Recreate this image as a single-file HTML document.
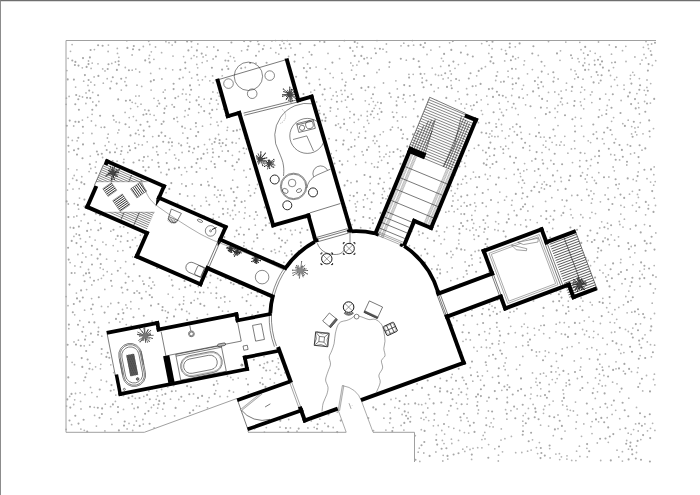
<!DOCTYPE html>
<html><head><meta charset="utf-8"><title>plan</title>
<style>html,body{margin:0;padding:0;background:#fff;}body{width:700px;height:495px;position:relative;overflow:hidden;font-family:"Liberation Sans",sans-serif;}
#bd{position:absolute;left:0;top:0;width:700px;height:495px;box-sizing:border-box;border-left:1px solid #8c8c8c;border-top:1px solid #6e6e6e;box-shadow:inset 0 1px 0 #dcdcdc;}</style></head>
<body><svg width="700" height="495" viewBox="0 0 700 495" style="position:absolute;left:0;top:0"><defs><filter id="bl" x="0" y="0" width="700" height="495" filterUnits="userSpaceOnUse"><feGaussianBlur stdDeviation="0.55"/></filter></defs><g filter="url(#bl)"><path d="M257.1 104.1h.01M450.1 71.0h.01M382.2 194.6h.01M107.2 78.7h.01M316.5 389.0h.01M139.0 134.6h.01M642.0 60.1h.01M572.5 162.6h.01M151.1 90.1h.01M443.0 197.5h.01M389.2 67.0h.01M101.2 127.3h.01M333.4 166.9h.01M534.7 335.1h.01M210.0 282.6h.01M644.3 90.3h.01M312.7 359.6h.01M155.7 246.6h.01M582.5 172.7h.01M476.2 291.0h.01M408.1 232.8h.01M101.8 336.2h.01M447.8 459.1h.01M550.9 160.5h.01M165.1 89.9h.01M100.8 364.3h.01M142.3 144.9h.01M390.2 412.8h.01M549.4 404.7h.01M230.3 215.5h.01M170.0 138.3h.01M203.7 244.9h.01M413.6 151.2h.01M628.3 331.5h.01M370.1 300.8h.01M465.0 63.3h.01M297.5 208.7h.01M127.1 307.9h.01M102.7 68.9h.01M66.1 104.3h.01M125.9 193.8h.01M81.0 409.0h.01M280.9 92.3h.01M566.9 459.1h.01M340.9 244.4h.01M555.0 108.5h.01M377.7 102.3h.01M386.5 51.9h.01M164.6 365.9h.01M380.2 368.9h.01M260.5 134.5h.01M548.8 352.4h.01M199.8 258.7h.01M275.8 52.7h.01M630.3 229.0h.01M618.8 457.0h.01M629.5 194.2h.01M434.2 420.0h.01M561.9 242.6h.01M451.3 377.5h.01M508.6 242.0h.01M171.3 373.1h.01M262.2 378.0h.01M141.0 104.2h.01M599.9 380.4h.01M152.2 388.9h.01M143.3 46.5h.01M638.8 314.3h.01M321.9 407.9h.01M207.9 287.7h.01M219.0 217.1h.01M143.3 424.1h.01M314.2 427.3h.01M362.0 264.7h.01M374.9 48.4h.01M167.7 240.1h.01M493.9 275.1h.01M258.3 259.0h.01M212.6 157.2h.01M521.6 254.5h.01M397.4 360.8h.01M368.2 332.5h.01M332.9 265.3h.01M478.5 410.0h.01M137.8 226.9h.01M108.8 141.9h.01M109.1 322.7h.01M455.6 100.8h.01M586.9 448.3h.01M301.0 245.9h.01M370.2 183.4h.01M181.5 174.8h.01M492.1 48.7h.01M434.1 256.4h.01M531.1 450.1h.01M127.8 152.4h.01M549.2 149.5h.01M154.1 427.9h.01M402.7 335.7h.01M440.3 378.4h.01M115.4 401.4h.01M105.3 404.2h.01M376.9 141.0h.01M130.6 108.6h.01M95.7 125.5h.01M361.1 115.5h.01M270.7 48.2h.01M213.8 47.0h.01M617.4 85.3h.01M549.2 222.7h.01M358.1 392.3h.01M268.2 391.3h.01M483.0 308.6h.01M304.8 187.0h.01M216.8 109.3h.01M115.8 395.1h.01M579.6 323.1h.01M158.9 228.4h.01M639.8 271.1h.01M248.6 190.8h.01M184.6 253.2h.01M68.9 151.8h.01M119.0 208.9h.01M411.5 263.6h.01M508.8 317.7h.01M488.4 411.0h.01M493.3 311.6h.01M91.8 392.6h.01M592.2 304.9h.01M363.6 392.4h.01M540.8 388.8h.01M410.6 416.8h.01M144.5 192.5h.01M127.9 392.8h.01M395.5 305.1h.01M536.6 355.9h.01M455.0 68.3h.01M500.7 146.8h.01M502.5 451.8h.01M357.4 201.7h.01M348.6 328.7h.01M153.0 147.5h.01M504.5 168.8h.01M401.0 45.8h.01M464.7 163.1h.01M370.8 236.4h.01M341.1 90.4h.01M76.3 234.0h.01M549.7 448.6h.01M331.2 153.7h.01M549.9 254.9h.01M589.2 337.0h.01M352.8 51.0h.01M252.5 394.7h.01M67.0 356.9h.01M561.1 91.1h.01M285.6 206.1h.01M655.3 288.8h.01M278.8 220.9h.01M367.5 120.5h.01M587.7 382.7h.01M438.2 425.5h.01M498.1 230.5h.01M510.1 312.2h.01M234.9 61.1h.01M241.7 352.0h.01M642.0 150.2h.01M453.0 167.3h.01M359.3 133.2h.01M600.7 460.5h.01M331.5 99.3h.01M207.1 149.4h.01M402.1 414.5h.01M508.3 214.5h.01M102.6 157.5h.01M636.9 93.6h.01M363.0 305.9h.01M301.9 228.4h.01M628.8 398.2h.01M581.0 49.7h.01M412.4 40.6h.01M297.0 431.2h.01M553.1 401.1h.01M621.5 344.7h.01M447.9 362.9h.01M335.8 273.0h.01M132.2 70.2h.01M375.4 286.2h.01M295.0 134.7h.01M631.8 312.2h.01M587.4 240.8h.01M204.5 144.6h.01M360.0 324.8h.01M313.8 148.9h.01M459.7 430.5h.01M536.3 352.0h.01M363.9 127.0h.01M638.2 171.9h.01M358.5 119.5h.01M197.8 216.3h.01M458.5 440.4h.01M101.5 206.3h.01M595.9 412.9h.01M498.3 461.0h.01M458.0 200.1h.01M286.6 180.3h.01M165.9 41.7h.01M634.9 127.9h.01M276.4 386.8h.01M95.1 240.1h.01M595.2 53.3h.01M308.4 382.7h.01M518.3 57.6h.01M506.9 419.2h.01M266.1 155.3h.01M631.0 300.6h.01M606.7 307.7h.01M622.5 50.7h.01M204.0 240.8h.01M319.7 248.5h.01M613.6 117.6h.01M539.5 351.8h.01M254.5 193.0h.01M527.5 73.8h.01M182.4 357.8h.01M587.3 456.9h.01M222.3 75.9h.01M122.9 250.6h.01M432.0 324.6h.01M507.3 397.5h.01M458.0 91.6h.01M501.5 124.5h.01M212.0 143.9h.01M156.5 413.2h.01M543.0 315.9h.01M650.7 83.6h.01M346.1 385.8h.01M136.3 120.4h.01M640.0 286.3h.01M614.8 197.4h.01M624.0 85.1h.01M417.7 301.8h.01M194.4 195.9h.01M450.5 126.3h.01M72.7 178.4h.01M466.2 118.5h.01M103.3 83.2h.01M299.2 272.4h.01M443.1 78.9h.01M250.3 279.3h.01M276.7 216.0h.01M575.9 460.6h.01M305.7 412.6h.01M337.9 109.0h.01M74.8 273.0h.01M284.8 253.1h.01M152.1 159.9h.01M373.5 430.6h.01M182.4 93.9h.01M622.4 451.7h.01M350.8 63.0h.01M529.6 134.1h.01M304.6 397.2h.01M555.2 117.6h.01M138.6 144.6h.01M493.7 418.7h.01M90.2 277.5h.01M436.0 169.6h.01M313.8 286.1h.01M317.2 318.2h.01M354.8 139.7h.01M516.5 369.3h.01M336.4 116.2h.01M120.1 226.8h.01M367.0 57.7h.01M441.5 75.2h.01M363.3 199.8h.01M571.7 460.4h.01M606.5 110.1h.01M512.1 107.4h.01M595.0 156.4h.01M547.2 101.0h.01M87.7 117.3h.01M467.0 417.9h.01M165.6 371.3h.01M581.0 274.5h.01M408.2 412.5h.01M437.6 206.7h.01M278.5 362.8h.01M504.7 60.9h.01M443.2 455.3h.01M85.9 103.5h.01M429.5 222.7h.01M368.5 418.0h.01M67.5 190.1h.01M128.8 191.0h.01M198.3 286.5h.01M209.7 103.4h.01M122.5 309.5h.01M580.1 370.2h.01M397.8 188.2h.01M446.9 227.5h.01M618.9 349.7h.01M100.4 368.8h.01M621.1 100.5h.01M183.7 296.8h.01M94.6 415.4h.01M528.0 342.0h.01M69.7 396.4h.01M199.3 84.9h.01M203.1 56.9h.01M264.0 356.5h.01M531.2 261.0h.01M222.5 311.1h.01M635.4 132.0h.01M504.9 438.7h.01M506.2 178.3h.01M585.3 179.0h.01M343.0 394.4h.01M477.6 401.9h.01M324.0 345.9h.01M111.9 424.4h.01M151.3 51.8h.01M269.5 100.3h.01M477.2 351.1h.01M104.8 289.4h.01M280.4 385.1h.01M129.2 127.2h.01M132.1 55.0h.01M566.2 382.8h.01M124.9 81.7h.01M512.8 126.9h.01M254.3 219.1h.01M283.1 175.7h.01M634.8 252.8h.01M568.3 301.1h.01M270.6 337.5h.01M383.3 131.8h.01M574.7 78.8h.01M515.7 452.7h.01M356.0 376.3h.01M174.9 249.0h.01M130.9 308.8h.01M113.7 372.6h.01M477.3 372.2h.01M591.3 76.8h.01M590.2 51.1h.01M597.7 251.8h.01M379.6 358.5h.01M271.6 178.2h.01M157.6 395.9h.01M522.3 284.6h.01M140.4 235.2h.01M588.2 140.8h.01M157.2 106.2h.01M212.1 178.1h.01M374.1 108.3h.01M126.0 202.5h.01M646.5 375.5h.01M498.6 223.8h.01M301.4 373.9h.01M475.1 251.5h.01M439.1 235.8h.01M601.7 221.8h.01M404.6 356.2h.01M314.5 136.8h.01M568.9 326.9h.01M444.5 231.8h.01M250.7 305.3h.01M315.9 232.4h.01M432.7 213.0h.01M464.4 432.6h.01M88.5 269.5h.01M160.9 370.0h.01M620.9 259.4h.01M368.2 309.9h.01M555.1 260.4h.01M190.0 329.0h.01M227.9 209.0h.01M73.9 216.9h.01M314.1 334.8h.01M620.6 262.7h.01M195.2 378.3h.01M297.3 129.9h.01M342.8 277.4h.01M274.3 309.8h.01M549.1 384.5h.01M557.9 190.0h.01M567.9 153.2h.01M287.9 147.4h.01M244.1 242.6h.01M318.8 309.1h.01M455.0 193.3h.01M148.8 390.9h.01M439.6 46.8h.01M453.0 145.9h.01M270.4 104.9h.01M599.4 374.2h.01M165.1 416.1h.01M531.0 394.1h.01M182.4 332.5h.01M379.2 353.2h.01M204.2 99.2h.01M356.9 65.1h.01M341.6 101.4h.01M458.5 394.8h.01M287.2 217.0h.01M632.8 72.3h.01M468.7 433.1h.01M367.3 244.8h.01M489.7 304.1h.01M376.1 365.3h.01M190.3 223.9h.01M315.2 274.0h.01M363.2 155.0h.01M452.2 374.3h.01M261.2 174.2h.01M89.6 345.1h.01M588.5 270.4h.01M95.3 167.1h.01M602.8 298.3h.01M429.9 304.7h.01M467.8 130.1h.01M173.0 56.1h.01M523.0 425.8h.01M452.9 196.0h.01M244.2 218.3h.01M444.6 434.1h.01M98.2 279.7h.01M608.0 228.7h.01M74.3 203.7h.01M415.3 435.7h.01M446.3 130.0h.01M155.5 47.0h.01M68.8 328.7h.01M498.8 119.5h.01M95.6 366.8h.01M487.0 401.1h.01M489.2 45.3h.01M74.7 314.8h.01M548.2 74.1h.01M352.9 65.7h.01M282.9 282.8h.01M324.8 325.8h.01M437.5 216.7h.01M293.6 371.9h.01M623.5 371.2h.01M261.9 295.9h.01M642.7 390.9h.01M420.7 170.6h.01M421.1 418.2h.01M542.4 159.9h.01M544.9 406.0h.01M270.6 76.4h.01M392.7 376.6h.01M615.7 139.1h.01M216.3 357.1h.01M533.1 234.3h.01M117.7 380.5h.01M588.2 260.5h.01M347.2 288.9h.01M177.6 121.6h.01M303.5 258.5h.01M153.9 59.3h.01M654.3 198.2h.01M577.0 245.5h.01M400.6 150.8h.01M525.7 220.0h.01M184.6 116.7h.01M115.4 62.0h.01M394.9 407.5h.01M217.7 278.4h.01M444.0 443.6h.01M461.1 206.2h.01M196.8 56.8h.01M598.6 421.8h.01M560.0 60.3h.01M98.9 101.5h.01M511.4 436.4h.01M465.4 166.4h.01M217.6 92.8h.01M350.0 111.6h.01M465.8 45.8h.01M577.4 415.1h.01M148.5 229.0h.01M562.9 305.4h.01M196.8 64.4h.01M487.1 273.7h.01M151.4 407.5h.01M561.3 181.5h.01M165.0 247.5h.01M253.7 421.2h.01M347.7 161.1h.01M218.1 125.5h.01M654.9 430.4h.01M643.4 47.3h.01M542.1 184.2h.01M148.7 41.3h.01M403.1 98.7h.01M172.3 365.2h.01M485.9 123.4h.01M227.6 127.3h.01M427.3 338.8h.01M544.8 286.2h.01M544.3 181.8h.01M562.7 404.9h.01M356.9 47.0h.01M175.8 391.0h.01M282.6 109.4h.01M285.0 291.2h.01M137.3 341.7h.01M255.4 340.3h.01M291.0 357.2h.01M368.9 264.1h.01M383.0 49.2h.01M636.8 134.8h.01M83.7 81.2h.01M478.4 122.7h.01M76.4 293.1h.01M579.0 342.8h.01M92.7 92.4h.01M231.0 91.9h.01M152.9 282.0h.01M506.5 109.8h.01M553.3 435.7h.01M524.4 183.2h.01M207.8 181.7h.01M540.6 425.2h.01M631.1 434.3h.01M213.1 218.4h.01M379.2 69.7h.01M638.1 367.8h.01M618.8 307.4h.01M543.5 413.3h.01M466.3 155.8h.01M385.9 430.1h.01M432.5 146.1h.01M246.2 313.4h.01M137.0 291.0h.01M630.1 257.1h.01M139.1 95.9h.01M239.2 211.9h.01M236.1 143.1h.01M402.4 314.6h.01M184.7 339.9h.01M427.6 238.2h.01M292.1 287.4h.01M73.0 189.1h.01M574.5 141.0h.01M159.6 68.7h.01M580.1 226.0h.01M325.5 350.5h.01M157.2 182.6h.01M273.9 325.2h.01M429.6 398.8h.01M514.2 240.8h.01M605.7 94.1h.01M579.8 42.3h.01M528.4 408.4h.01M424.3 200.5h.01M332.8 233.5h.01M292.9 176.2h.01M530.4 398.6h.01M360.7 227.7h.01M608.9 177.0h.01M563.6 393.8h.01M631.7 126.6h.01M399.3 250.1h.01M609.0 366.5h.01M371.3 258.5h.01M465.1 261.9h.01M124.4 198.3h.01M302.5 277.1h.01M325.7 303.8h.01M653.7 185.2h.01M378.8 384.4h.01M593.8 331.3h.01M550.1 457.9h.01M590.0 217.9h.01M177.0 117.4h.01M437.8 294.7h.01M441.5 58.3h.01M68.3 168.8h.01M562.9 287.6h.01M460.2 123.4h.01M137.7 106.6h.01M125.1 112.4h.01M374.3 387.5h.01M520.6 176.6h.01M488.1 189.6h.01M166.0 152.9h.01M331.4 203.1h.01M213.1 59.0h.01M547.4 168.5h.01M489.9 133.8h.01M248.4 409.4h.01M351.8 374.6h.01M639.2 163.0h.01M397.3 88.9h.01M380.9 203.0h.01M273.2 143.7h.01M178.8 160.0h.01M205.9 55.2h.01M120.7 154.2h.01M558.7 94.4h.01M327.6 393.0h.01M333.1 95.7h.01M482.8 150.4h.01M596.8 288.2h.01M580.7 92.3h.01M368.7 269.2h.01M225.5 365.8h.01M170.5 399.2h.01M255.4 319.8h.01M279.3 251.4h.01M140.4 342.6h.01M232.6 210.5h.01M602.3 367.2h.01M83.4 327.0h.01M457.5 188.6h.01M309.4 318.3h.01M437.0 117.1h.01M134.0 425.2h.01M499.1 340.9h.01M244.8 201.0h.01M89.1 171.6h.01M442.6 116.2h.01M322.6 328.9h.01M271.9 40.9h.01M558.2 367.8h.01M131.6 374.1h.01M508.2 76.8h.01M475.9 206.4h.01M624.4 219.2h.01M614.8 332.0h.01M501.8 390.3h.01M318.7 256.3h.01M515.5 58.9h.01M480.6 380.1h.01M386.9 145.7h.01M101.0 191.3h.01M308.9 125.4h.01M370.1 228.1h.01M618.1 188.6h.01M242.6 413.4h.01M389.5 361.1h.01M165.8 321.4h.01M419.2 234.9h.01M278.7 127.5h.01M182.3 336.2h.01M330.3 88.1h.01M108.4 45.1h.01M651.4 356.8h.01M115.5 342.8h.01M386.4 44.0h.01M608.5 312.2h.01M436.4 434.7h.01M175.6 309.5h.01M565.0 431.1h.01M555.9 353.4h.01M283.9 390.9h.01M400.5 305.3h.01M549.6 337.9h.01M408.9 74.3h.01M471.9 109.5h.01M118.9 57.3h.01M562.1 401.0h.01M530.3 219.8h.01M233.1 319.4h.01M459.0 388.7h.01M599.4 109.8h.01M240.5 227.3h.01M576.6 451.2h.01M544.6 65.8h.01M465.1 297.3h.01M268.6 413.6h.01M82.4 120.1h.01M466.4 229.1h.01M133.4 116.6h.01M132.2 403.9h.01M215.6 80.5h.01M199.7 281.9h.01M132.7 256.8h.01M413.2 74.3h.01M390.8 341.7h.01M512.6 88.8h.01M650.5 344.7h.01M523.2 98.2h.01M523.9 64.8h.01M205.8 197.4h.01M590.3 302.3h.01M580.6 277.8h.01M607.3 407.5h.01M467.5 388.5h.01M138.4 197.7h.01M501.0 440.1h.01M132.7 430.5h.01M464.4 147.8h.01M180.0 228.8h.01M131.1 378.0h.01M175.3 274.1h.01M237.1 330.1h.01M472.8 381.2h.01M625.8 46.3h.01M538.3 55.4h.01M346.7 107.2h.01M564.6 206.3h.01M581.1 298.0h.01M166.1 192.7h.01M342.0 283.7h.01M294.8 189.6h.01M92.8 102.0h.01M461.9 155.4h.01M227.3 251.3h.01M396.8 365.4h.01M580.7 366.9h.01M280.1 159.2h.01M245.4 362.2h.01M502.3 255.0h.01M440.8 188.2h.01M350.1 195.3h.01M209.6 139.5h.01M272.0 97.7h.01M165.7 68.5h.01M243.9 170.5h.01M619.1 184.0h.01M276.6 366.9h.01M318.7 406.5h.01M106.0 244.7h.01M301.7 124.9h.01M421.7 404.7h.01M448.4 123.4h.01M543.6 409.5h.01M267.3 98.1h.01M177.0 266.8h.01M258.8 356.3h.01M448.9 211.3h.01M466.6 182.9h.01M263.4 248.9h.01M418.7 148.8h.01M339.4 46.2h.01M428.2 345.7h.01M260.2 79.9h.01M158.2 100.6h.01M383.8 288.5h.01M393.4 317.6h.01M420.9 179.9h.01M523.8 170.9h.01M521.8 452.5h.01M333.4 157.8h.01M649.8 136.7h.01M512.4 78.4h.01M82.5 97.0h.01M154.1 115.3h.01M501.3 428.9h.01M161.6 52.7h.01M538.3 234.4h.01M257.1 421.3h.01M129.6 349.6h.01M101.4 278.3h.01M307.9 427.9h.01M623.5 304.8h.01M202.5 126.2h.01M513.9 311.4h.01M193.8 280.6h.01M232.7 180.2h.01M161.3 328.3h.01M418.6 231.5h.01M575.4 117.3h.01M241.6 50.8h.01M71.6 424.7h.01M266.3 427.6h.01M644.0 54.4h.01M204.4 374.4h.01M252.7 410.8h.01M137.1 245.9h.01M146.1 221.1h.01M274.6 249.7h.01M608.0 187.8h.01M587.1 348.8h.01M91.5 254.9h.01M306.8 275.1h.01M279.9 45.0h.01M301.6 174.6h.01M294.4 203.0h.01M307.9 100.8h.01M216.3 298.0h.01M288.4 142.0h.01M183.1 89.5h.01M475.6 177.2h.01M447.3 271.9h.01M569.5 255.5h.01M504.6 200.2h.01M486.2 206.4h.01M376.5 298.8h.01M197.7 298.7h.01M345.2 344.6h.01M374.0 241.4h.01M375.1 262.8h.01M545.9 141.1h.01M167.7 386.9h.01M578.0 58.7h.01M290.9 391.2h.01M548.5 92.4h.01M333.2 77.6h.01M476.1 229.9h.01M348.2 377.0h.01M373.2 140.7h.01M284.8 183.8h.01M290.9 48.0h.01M489.7 156.2h.01M257.2 142.4h.01M558.1 79.0h.01M533.5 300.9h.01M285.3 59.0h.01M327.1 195.3h.01M544.4 189.0h.01M293.4 284.4h.01M611.6 121.3h.01M260.4 70.3h.01M512.1 200.4h.01M376.2 249.8h.01M338.9 235.3h.01M561.4 215.4h.01M325.5 247.6h.01M303.0 57.6h.01M467.1 273.9h.01M519.8 365.0h.01M126.0 77.7h.01M510.5 278.4h.01M98.5 327.5h.01M654.9 384.8h.01M580.4 101.8h.01M263.3 258.9h.01M572.7 274.7h.01M577.4 378.5h.01M571.4 148.9h.01M410.4 194.7h.01M538.9 124.9h.01M608.4 274.9h.01M399.3 176.9h.01M227.4 376.1h.01M238.0 340.0h.01M100.1 223.3h.01M443.2 61.1h.01M575.0 70.8h.01M463.6 325.0h.01M240.0 129.4h.01M560.6 101.9h.01M470.7 105.8h.01M239.2 138.6h.01M409.4 174.8h.01M562.4 104.5h.01M537.6 453.6h.01M290.2 310.6h.01M495.7 221.7h.01M466.6 88.7h.01M554.8 92.0h.01M508.7 249.8h.01M614.6 79.7h.01M352.0 404.7h.01M564.8 136.3h.01M611.5 54.2h.01M419.3 448.2h.01M212.0 353.4h.01M395.9 80.8h.01M85.9 256.9h.01M274.2 198.4h.01M457.3 109.6h.01M261.7 395.5h.01M584.6 89.8h.01M358.7 266.4h.01M135.4 237.7h.01M182.7 210.7h.01M186.0 94.1h.01M207.5 407.8h.01M156.7 151.8h.01M84.2 206.3h.01M371.7 163.6h.01M485.4 66.7h.01M211.0 293.1h.01M645.9 57.9h.01M544.2 235.1h.01M609.3 45.0h.01M620.8 214.1h.01M466.5 104.2h.01M182.9 133.1h.01M654.4 374.2h.01M509.4 308.7h.01M183.4 304.0h.01M120.5 342.9h.01M505.9 97.4h.01M599.8 354.5h.01M557.1 378.6h.01M633.0 264.6h.01M624.1 89.3h.01M637.4 372.4h.01M470.3 339.9h.01M297.3 370.9h.01M534.3 328.3h.01M266.4 291.2h.01M559.4 374.7h.01M75.6 87.1h.01M274.7 396.5h.01M431.4 163.6h.01M479.7 226.8h.01M90.5 387.4h.01M174.6 154.9h.01M426.0 417.3h.01M377.0 40.6h.01M334.2 381.7h.01M125.5 273.5h.01M593.3 321.3h.01M110.8 303.5h.01M279.5 319.2h.01M330.2 357.1h.01M591.8 347.7h.01M257.9 98.2h.01M406.3 60.2h.01M297.4 355.5h.01M444.5 158.9h.01M540.9 325.6h.01M484.7 331.7h.01M229.7 108.7h.01M148.5 258.0h.01M583.7 108.8h.01M501.6 112.4h.01M636.5 446.0h.01M622.8 123.7h.01M255.3 225.2h.01M634.5 153.0h.01M331.6 393.3h.01M251.7 104.6h.01M280.0 427.2h.01M378.3 162.1h.01M437.8 150.0h.01M107.2 271.7h.01M510.7 326.3h.01M131.7 169.9h.01M620.8 353.4h.01M267.6 206.0h.01M541.4 187.9h.01M461.0 420.5h.01M144.8 183.3h.01M104.9 214.7h.01M304.2 282.3h.01M227.5 396.6h.01M155.2 323.6h.01M448.8 410.9h.01M143.5 337.3h.01M481.2 298.6h.01M227.1 130.3h.01M198.1 80.1h.01M464.8 451.4h.01M560.8 177.5h.01M68.0 305.7h.01M147.9 156.4h.01M437.4 183.9h.01M261.3 280.1h.01M194.5 374.9h.01M82.7 253.2h.01M316.1 67.1h.01M437.7 345.9h.01M199.5 406.2h.01M653.5 379.5h.01M633.2 179.4h.01M333.8 328.2h.01M484.0 232.1h.01M267.6 120.5h.01M182.1 152.5h.01M396.6 336.1h.01M640.1 355.6h.01M73.7 404.5h.01M492.0 306.1h.01M221.6 190.3h.01M92.1 114.3h.01M275.6 419.4h.01M540.6 232.3h.01M603.9 375.5h.01M141.7 86.4h.01M398.4 254.6h.01M485.0 438.9h.01M644.5 224.6h.01M498.1 202.4h.01M555.9 371.8h.01M339.6 58.7h.01M590.5 265.7h.01M351.9 310.0h.01M187.4 143.1h.01M600.4 201.8h.01M335.3 287.3h.01M441.5 338.5h.01M325.4 69.0h.01M463.0 341.3h.01M207.5 314.3h.01M474.3 239.3h.01M200.9 205.9h.01M531.0 387.7h.01M440.0 353.1h.01M88.5 61.0h.01M195.6 323.7h.01M614.9 309.7h.01M162.1 256.4h.01M128.4 372.2h.01M590.9 426.7h.01M362.5 301.8h.01M416.8 377.5h.01M111.8 63.4h.01M505.5 50.6h.01M555.5 382.6h.01M336.2 92.0h.01M566.5 83.2h.01M282.9 168.1h.01M423.8 453.0h.01M372.9 232.5h.01M306.4 298.0h.01M448.7 426.8h.01M488.8 53.4h.01M467.7 398.8h.01M320.2 410.6h.01M616.0 361.8h.01M559.7 459.6h.01M213.4 214.3h.01M523.2 415.6h.01M534.8 264.7h.01M127.9 388.4h.01M379.2 314.4h.01M473.0 448.3h.01M118.9 130.0h.01M170.0 225.1h.01M506.2 357.9h.01M212.6 148.9h.01M414.8 317.1h.01M418.7 333.4h.01M245.3 67.5h.01M244.9 212.9h.01M472.8 228.0h.01M495.7 80.5h.01M555.0 135.9h.01M455.0 287.9h.01M456.1 116.6h.01M450.8 280.6h.01M197.7 67.8h.01M74.7 399.8h.01M214.5 194.9h.01M374.6 87.5h.01M212.5 376.0h.01M292.7 194.5h.01M444.4 239.4h.01M579.1 61.8h.01M121.3 90.1h.01M202.1 226.1h.01M135.8 69.1h.01M108.2 134.2h.01M505.1 277.8h.01M579.4 446.2h.01M611.2 234.8h.01M497.5 71.9h.01M333.3 174.5h.01M172.2 45.1h.01M451.3 257.4h.01M80.4 238.7h.01M422.9 315.0h.01M623.9 352.6h.01M571.8 195.5h.01M597.9 75.0h.01M194.0 55.6h.01M325.0 99.7h.01M432.5 131.7h.01M558.0 125.6h.01M655.8 232.9h.01M79.5 198.1h.01M161.6 389.5h.01M66.1 296.6h.01M147.2 141.8h.01M154.0 98.3h.01M589.1 64.5h.01M456.4 403.1h.01M630.6 153.9h.01M96.4 426.1h.01M636.5 407.4h.01M313.9 263.6h.01M134.8 143.2h.01M110.9 418.8h.01M402.5 117.0h.01M474.3 148.3h.01M466.0 339.4h.01M448.0 116.5h.01M631.5 371.7h.01M499.8 192.1h.01M457.4 363.7h.01M192.8 152.6h.01M111.9 286.0h.01M622.0 283.7h.01M275.9 337.4h.01M464.8 108.3h.01M444.8 308.0h.01M481.9 447.8h.01M550.7 293.9h.01M567.3 409.4h.01M74.9 265.9h.01M68.3 137.4h.01M648.5 48.6h.01M638.3 103.1h.01M161.9 79.0h.01M434.2 334.1h.01M221.1 374.2h.01M474.7 202.9h.01M489.0 137.2h.01M536.3 378.5h.01M540.4 374.0h.01M202.4 79.8h.01M457.4 278.7h.01M440.0 142.0h.01M380.6 345.8h.01M84.2 345.8h.01M428.7 420.6h.01M186.7 171.6h.01M456.9 150.4h.01M488.6 444.6h.01M534.7 171.0h.01M252.1 344.5h.01M369.1 104.3h.01M615.7 410.3h.01M338.4 123.8h.01M488.6 263.6h.01M523.5 85.3h.01M107.3 203.6h.01M253.8 241.5h.01M486.3 365.2h.01M285.3 228.8h.01M334.9 308.9h.01M230.4 56.3h.01M644.9 423.9h.01M520.7 224.8h.01M116.6 206.5h.01M96.2 161.9h.01M557.5 111.8h.01M168.5 362.9h.01M317.2 183.0h.01M592.1 421.6h.01M422.4 162.2h.01M340.5 342.3h.01M265.9 145.0h.01M216.5 238.3h.01M650.4 103.1h.01M575.2 282.8h.01M72.1 362.3h.01M423.9 419.6h.01M289.2 87.0h.01M308.2 308.5h.01M589.5 359.0h.01M545.7 147.2h.01M453.0 201.0h.01M384.1 182.3h.01M584.5 99.1h.01M465.4 315.5h.01M94.3 407.3h.01M192.3 184.0h.01M213.1 82.8h.01M259.0 51.5h.01M338.6 209.9h.01M539.4 442.6h.01M596.8 349.8h.01M371.9 244.5h.01M311.7 411.6h.01M279.8 193.6h.01M86.6 289.6h.01M321.1 342.9h.01M319.3 79.4h.01M321.7 200.9h.01M484.8 432.4h.01M185.0 167.7h.01M656.0 277.0h.01M535.2 117.8h.01M603.0 272.9h.01M597.3 443.0h.01M396.4 101.1h.01M316.1 294.3h.01M342.3 79.4h.01M69.3 183.9h.01M489.0 355.9h.01M486.1 340.0h.01M611.8 62.7h.01M623.0 227.1h.01M442.8 461.0h.01M264.3 363.6h.01M210.6 124.3h.01M116.1 121.9h.01M252.3 253.2h.01M174.3 242.7h.01M316.8 188.9h.01M403.8 43.2h.01M567.2 347.5h.01M321.2 166.2h.01M151.7 194.7h.01M568.4 373.9h.01M595.5 377.9h.01M81.8 176.7h.01M280.4 417.8h.01M294.4 297.3h.01M529.7 150.3h.01M384.0 156.8h.01M101.1 380.1h.01M152.7 136.6h.01M498.7 344.0h.01M293.6 79.8h.01M581.0 358.1h.01M418.2 452.2h.01M172.7 297.3h.01M462.8 449.2h.01M322.3 205.3h.01M482.5 114.3h.01M172.1 104.7h.01M273.1 351.2h.01M325.4 373.9h.01M405.7 230.8h.01M586.0 293.8h.01M605.8 276.9h.01M150.1 114.3h.01M292.2 331.6h.01M402.2 347.5h.01M429.0 173.8h.01M288.2 153.9h.01M220.8 298.0h.01M354.4 156.5h.01M610.5 75.5h.01M412.0 220.6h.01M616.7 77.3h.01M229.2 88.4h.01M491.9 130.9h.01M452.0 157.6h.01M622.4 461.1h.01M335.2 404.5h.01M344.9 90.5h.01M508.0 101.6h.01M85.6 241.9h.01M340.1 238.2h.01M490.0 347.8h.01M614.6 240.2h.01M529.7 146.0h.01M438.2 265.1h.01M505.4 138.3h.01M339.4 387.4h.01M633.6 429.6h.01M224.0 195.5h.01M392.9 361.6h.01M413.7 108.8h.01M148.8 285.9h.01M636.4 202.8h.01M389.0 172.8h.01M437.4 277.8h.01M625.5 329.4h.01M440.1 269.5h.01M392.4 127.2h.01M365.4 90.3h.01M559.7 322.5h.01M95.1 220.3h.01M311.3 420.9h.01M73.7 126.0h.01M636.2 211.2h.01M555.9 454.1h.01M131.2 355.0h.01M652.2 303.2h.01M451.5 108.4h.01M216.5 100.2h.01M160.4 252.4h.01M404.9 276.7h.01M309.5 269.6h.01M512.5 142.5h.01M552.1 142.3h.01M120.6 241.7h.01M333.0 252.6h.01M172.7 69.8h.01M114.5 180.3h.01M246.2 177.2h.01M602.8 338.2h.01M319.0 110.5h.01M263.9 83.7h.01M504.1 342.6h.01M367.3 111.4h.01M598.5 42.0h.01M183.0 77.5h.01M471.6 459.4h.01M320.1 106.1h.01M650.5 428.3h.01M354.2 122.3h.01M617.0 383.8h.01M345.4 100.1h.01M351.4 94.1h.01M256.0 63.2h.01M410.0 345.2h.01M271.3 333.6h.01M120.0 346.6h.01M576.2 308.9h.01M157.7 408.1h.01M68.1 58.3h.01M274.6 409.2h.01M653.8 174.7h.01M182.0 259.1h.01M351.0 182.7h.01M286.5 255.7h.01M379.8 156.7h.01M526.8 258.6h.01M367.4 198.6h.01M191.6 231.0h.01M277.2 169.6h.01M278.1 358.6h.01M226.9 66.2h.01M278.8 54.1h.01M540.6 137.2h.01M486.1 417.9h.01M566.8 406.2h.01M325.2 218.0h.01M568.5 415.9h.01M521.9 198.4h.01M136.4 421.0h.01M285.3 361.4h.01M262.4 326.9h.01M434.5 119.9h.01M184.1 401.0h.01M602.5 138.9h.01M411.7 282.7h.01M421.2 255.5h.01M138.2 130.2h.01M249.7 216.0h.01M288.6 56.5h.01M535.9 382.1h.01M98.1 200.8h.01M389.5 203.7h.01M537.8 84.6h.01M219.4 357.8h.01M283.7 222.8h.01M365.6 162.4h.01M480.2 258.0h.01M285.4 403.5h.01M277.1 181.9h.01M428.7 278.0h.01M303.2 108.8h.01M456.9 320.7h.01M329.3 211.6h.01M83.0 133.1h.01M632.8 328.1h.01M464.7 250.0h.01M427.7 112.8h.01M390.9 97.0h.01M351.2 300.4h.01M429.9 369.2h.01M403.2 134.2h.01M400.3 357.9h.01M451.2 85.4h.01M427.0 54.5h.01M617.0 450.2h.01M325.6 390.4h.01M472.2 265.0h.01M574.8 126.1h.01M105.0 70.9h.01M434.2 91.4h.01M600.2 407.2h.01M612.6 382.2h.01M498.0 136.5h.01M391.8 298.6h.01M529.8 232.7h.01M231.9 354.5h.01M556.4 144.9h.01M505.6 409.7h.01M454.2 211.7h.01M375.5 105.4h.01M182.7 345.0h.01M274.4 382.9h.01M441.0 243.8h.01M215.8 390.6h.01M391.8 294.0h.01M524.6 163.6h.01M628.2 120.2h.01M125.4 214.1h.01M196.5 405.8h.01M183.6 56.6h.01M526.8 169.6h.01M494.9 136.7h.01M390.9 349.5h.01M212.6 75.9h.01M354.7 146.0h.01M197.8 44.0h.01M260.3 86.1h.01M653.5 128.6h.01M556.2 241.1h.01M171.1 211.8h.01M591.9 212.3h.01M576.2 74.2h.01M283.7 411.7h.01M436.0 306.9h.01M486.5 347.5h.01M186.7 311.4h.01M453.5 317.8h.01M264.7 94.5h.01M461.5 161.4h.01M134.2 348.7h.01M310.8 92.1h.01M374.4 167.0h.01M322.8 136.6h.01M298.0 358.9h.01M90.9 229.7h.01M581.6 126.1h.01M372.4 219.8h.01M619.7 418.7h.01M206.5 276.9h.01M611.2 86.5h.01M243.9 342.2h.01M140.7 240.0h.01M119.4 122.5h.01M371.4 98.2h.01M550.5 216.2h.01M418.6 404.4h.01M125.3 67.5h.01M475.2 288.2h.01M228.1 311.3h.01M358.5 137.0h.01M363.3 343.8h.01M217.7 383.7h.01M427.0 126.5h.01M654.5 313.5h.01M169.5 149.7h.01M429.6 122.3h.01M122.6 319.0h.01M91.4 121.0h.01M632.5 205.3h.01M316.7 198.4h.01M561.1 141.9h.01M619.8 391.8h.01M584.8 153.3h.01M537.3 395.7h.01M564.3 322.7h.01M166.5 106.1h.01M260.2 398.3h.01M244.5 153.3h.01M287.3 40.7h.01M409.4 253.0h.01M211.2 161.4h.01M638.4 197.4h.01M78.4 340.2h.01M543.7 333.7h.01M390.4 383.1h.01M404.1 368.9h.01M126.2 181.0h.01M447.0 319.7h.01M514.2 174.4h.01M130.8 301.7h.01M543.3 145.1h.01M438.7 113.6h.01M639.4 114.0h.01M110.8 231.2h.01M526.1 287.6h.01M206.3 169.0h.01M356.0 207.0h.01M264.0 45.6h.01M315.5 393.1h.01M477.7 447.7h.01M432.2 68.1h.01M386.0 198.8h.01M356.3 211.0h.01M579.9 456.4h.01M584.3 320.8h.01M289.5 165.3h.01M494.8 448.8h.01M481.9 439.6h.01M74.2 175.5h.01M206.5 201.2h.01M199.6 337.6h.01M378.0 295.8h.01M627.5 144.7h.01M270.2 379.1h.01M169.2 275.9h.01M162.3 394.9h.01M613.5 67.6h.01M260.4 106.2h.01M365.3 100.8h.01M544.1 137.1h.01M66.6 406.1h.01M647.0 178.7h.01M558.0 428.7h.01M251.0 328.6h.01M145.9 402.8h.01M590.6 142.6h.01M477.4 324.3h.01M123.9 159.3h.01M521.3 237.2h.01M547.0 107.8h.01M119.9 322.0h.01M115.2 144.5h.01M457.5 408.7h.01M208.8 372.9h.01M487.4 371.1h.01M379.7 335.3h.01M502.1 130.8h.01M258.0 159.5h.01M349.6 200.6h.01M574.9 148.6h.01M218.6 84.0h.01M362.2 364.4h.01M592.3 199.0h.01M138.9 308.8h.01M455.4 170.2h.01M580.8 214.7h.01M650.6 51.0h.01M566.2 385.9h.01M342.4 213.8h.01M182.0 377.7h.01M643.0 133.8h.01M106.6 259.2h.01M645.6 214.8h.01M273.1 216.7h.01M252.1 248.5h.01M398.2 127.7h.01M270.0 370.3h.01M91.1 68.4h.01M290.4 427.9h.01M452.1 135.1h.01M435.1 158.2h.01M329.0 138.7h.01M547.2 231.6h.01M397.5 120.9h.01M640.5 323.8h.01M380.2 309.7h.01M490.1 167.6h.01M203.1 337.4h.01M242.2 345.3h.01M648.0 44.7h.01M583.6 53.1h.01M520.2 173.3h.01M521.0 132.4h.01M344.4 40.7h.01M218.8 321.1h.01M496.0 123.8h.01M249.3 185.1h.01M122.6 187.4h.01M134.9 357.1h.01M214.5 257.6h.01M619.6 159.9h.01M255.4 124.2h.01M319.9 419.1h.01M80.1 392.8h.01M172.0 145.9h.01M246.0 262.2h.01M522.7 345.7h.01M612.1 414.4h.01M85.8 335.8h.01M206.5 266.3h.01M90.3 156.1h.01M135.5 103.3h.01M377.7 114.0h.01M517.3 238.7h.01M135.3 398.3h.01M522.8 356.4h.01M308.2 356.9h.01M292.8 379.0h.01M344.2 382.9h.01M640.8 439.6h.01M630.5 75.3h.01M481.4 347.2h.01M417.1 383.9h.01M228.4 52.8h.01M610.8 154.5h.01M189.8 102.2h.01M410.0 95.8h.01M562.3 348.9h.01M151.7 256.4h.01M539.2 95.9h.01M582.9 217.5h.01M250.8 92.8h.01M609.3 244.7h.01M584.5 334.5h.01M417.2 367.4h.01M165.0 185.5h.01M552.3 379.6h.01M448.4 369.1h.01M370.4 277.5h.01M357.4 359.5h.01M321.0 277.0h.01M279.4 205.4h.01M639.4 78.6h.01M207.1 47.0h.01M581.5 436.3h.01M234.7 236.6h.01M343.1 203.8h.01M575.5 402.1h.01M647.3 341.9h.01M106.5 381.5h.01M458.7 240.1h.01M592.0 433.6h.01M404.0 177.4h.01M325.4 383.3h.01M173.3 344.0h.01M442.5 184.9h.01M86.0 92.9h.01M396.7 112.6h.01M216.3 287.5h.01M228.6 370.2h.01M324.8 423.3h.01M514.2 210.7h.01M346.3 207.6h.01M522.8 421.2h.01M337.8 262.5h.01M188.1 115.1h.01M485.4 223.1h.01M390.5 178.2h.01M532.5 372.9h.01M477.9 413.5h.01M218.3 263.2h.01M551.0 287.4h.01M319.5 142.6h.01M566.1 89.9h.01M451.3 190.7h.01M590.5 165.7h.01M445.3 327.9h.01M232.4 155.3h.01M91.6 298.6h.01M437.4 317.4h.01M367.3 116.2h.01M581.8 87.2h.01M392.6 346.9h.01M527.3 94.8h.01M239.7 399.2h.01M307.0 106.0h.01M454.8 175.0h.01M144.9 109.9h.01M538.1 77.5h.01M575.9 428.6h.01M517.5 266.3h.01M123.5 409.4h.01M383.5 83.0h.01M482.4 375.8h.01M515.3 332.7h.01M156.7 391.1h.01M337.8 382.8h.01M586.8 189.4h.01M475.1 210.7h.01M574.3 360.9h.01M634.9 57.0h.01M543.9 263.4h.01M392.8 267.9h.01M72.3 140.4h.01M525.6 104.8h.01M379.4 365.2h.01M527.7 327.3h.01M280.7 412.1h.01M469.9 230.4h.01M567.4 103.2h.01M265.2 341.4h.01M551.8 197.7h.01M330.1 73.4h.01M395.6 227.8h.01M248.0 294.6h.01M139.0 186.2h.01M140.4 218.6h.01M631.6 133.9h.01M463.5 277.0h.01M418.4 166.9h.01M499.5 331.0h.01M89.7 236.9h.01M429.6 118.9h.01M573.4 411.0h.01M226.0 351.4h.01M646.9 87.4h.01M272.1 292.4h.01M260.3 169.2h.01M103.2 269.3h.01M498.5 455.2h.01M76.8 216.0h.01M205.6 339.1h.01M451.0 80.6h.01M150.7 73.4h.01M336.7 375.4h.01M638.2 431.0h.01M395.8 398.3h.01M80.5 266.9h.01M405.2 102.2h.01M486.8 96.1h.01M216.7 380.9h.01M169.0 42.7h.01M189.5 72.1h.01M475.8 85.9h.01M197.5 225.6h.01M125.9 304.9h.01M333.2 427.5h.01M128.0 355.0h.01M344.8 329.5h.01M425.5 218.9h.01M175.8 235.9h.01M212.2 331.5h.01M655.5 205.5h.01M619.9 224.5h.01M505.5 306.3h.01M614.6 322.8h.01M66.9 70.6h.01M571.1 214.8h.01M632.4 191.3h.01M431.8 268.9h.01M242.4 297.4h.01M543.2 86.5h.01M375.2 218.0h.01M149.5 55.4h.01M556.2 324.2h.01M438.1 172.3h.01M598.7 383.9h.01M131.8 346.4h.01M543.6 373.2h.01M563.0 390.0h.01M571.6 91.2h.01M257.7 41.3h.01M634.4 75.1h.01M508.9 135.9h.01M257.5 184.5h.01M518.6 182.4h.01M309.9 354.3h.01M248.5 398.0h.01M111.3 81.4h.01M497.5 300.0h.01M187.5 344.8h.01M298.9 153.9h.01M153.7 405.0h.01M406.7 309.2h.01M197.1 317.9h.01M357.5 43.1h.01M218.8 201.6h.01M257.3 215.2h.01M278.3 177.1h.01M501.6 248.3h.01M592.0 92.0h.01M361.6 277.1h.01M135.2 175.1h.01M75.5 393.5h.01M576.3 422.0h.01M110.8 364.8h.01M291.2 82.7h.01M375.6 400.3h.01M509.9 128.9h.01M589.0 317.1h.01M117.8 132.8h.01M415.0 263.8h.01M624.3 207.2h.01M315.7 268.2h.01M561.4 456.8h.01M514.4 131.7h.01M401.4 225.8h.01M196.5 339.6h.01M343.4 264.9h.01M247.9 84.9h.01M351.6 70.2h.01M69.1 96.4h.01M187.6 196.0h.01M301.7 202.9h.01M554.7 181.5h.01M381.3 285.9h.01M286.5 311.5h.01M190.1 375.9h.01M110.3 215.1h.01M591.0 191.0h.01M218.1 104.0h.01M358.9 61.5h.01M162.8 409.2h.01M492.9 255.0h.01M425.6 403.4h.01M628.8 291.1h.01M248.3 391.9h.01M620.0 429.3h.01M295.3 230.1h.01M127.8 232.8h.01M371.4 371.7h.01M175.8 158.3h.01M612.0 134.6h.01M583.7 136.4h.01M94.1 76.9h.01M329.2 178.5h.01M555.9 331.9h.01M137.0 85.2h.01M139.4 374.3h.01M653.5 293.0h.01M72.1 44.6h.01M423.9 299.2h.01M520.9 258.5h.01M451.3 74.0h.01M345.3 341.0h.01M77.9 254.5h.01M251.3 293.0h.01M380.2 134.6h.01M517.4 251.1h.01M275.8 147.4h.01M108.0 306.7h.01M80.6 401.4h.01M326.4 328.3h.01M84.6 310.2h.01M403.9 430.1h.01M393.1 427.6h.01M117.5 53.4h.01M479.4 292.0h.01M450.9 251.4h.01M599.8 270.2h.01M163.1 338.3h.01M611.6 405.1h.01M481.7 43.6h.01M103.5 275.4h.01M405.8 117.1h.01M599.8 364.2h.01M110.6 406.7h.01M356.3 74.8h.01M159.1 244.5h.01M246.3 76.7h.01M524.5 60.8h.01M373.9 117.6h.01M476.3 94.8h.01M79.2 188.7h.01M233.0 379.7h.01M450.1 295.5h.01M503.4 153.2h.01M279.3 73.0h.01M582.6 329.5h.01M355.0 270.3h.01M381.5 250.1h.01M218.6 134.5h.01M461.4 184.2h.01M97.1 396.7h.01M571.0 69.5h.01M627.1 312.8h.01M525.4 313.5h.01M640.3 122.7h.01M440.7 66.4h.01M532.5 439.8h.01M488.9 271.3h.01M437.2 322.4h.01M652.4 65.4h.01M102.4 178.6h.01M570.4 265.1h.01M537.2 222.6h.01M92.7 314.3h.01M178.3 96.4h.01M613.1 167.0h.01M321.4 174.3h.01M461.1 214.0h.01M132.2 102.3h.01M211.0 117.6h.01M151.2 328.0h.01M318.9 296.7h.01M453.4 226.3h.01M120.1 194.1h.01M286.1 197.3h.01M368.6 146.9h.01M189.8 94.7h.01M560.5 50.8h.01M316.6 101.9h.01M389.4 156.3h.01M189.3 313.5h.01M113.2 245.6h.01M246.2 378.8h.01M132.5 239.9h.01M620.9 205.4h.01M394.7 217.7h.01M270.8 160.4h.01M562.2 200.0h.01M499.9 109.1h.01M650.8 318.7h.01M631.2 246.5h.01M572.2 58.2h.01M626.8 165.0h.01M593.5 388.3h.01M516.5 293.4h.01M466.5 394.5h.01M452.2 267.9h.01M73.9 236.4h.01M198.8 97.0h.01M308.1 291.8h.01M365.5 268.0h.01M515.1 269.4h.01M120.5 267.8h.01M174.2 356.3h.01M494.8 229.7h.01M244.3 405.9h.01M197.9 244.1h.01M236.0 270.5h.01M156.2 399.3h.01M371.2 58.2h.01M599.7 227.9h.01M203.6 292.4h.01M448.2 77.9h.01M505.1 362.9h.01M229.8 301.3h.01M287.3 240.4h.01M161.0 172.5h.01M567.0 455.8h.01M515.6 108.5h.01M115.8 239.1h.01M607.2 417.7h.01M399.3 262.6h.01M554.1 77.4h.01M565.8 254.5h.01M491.7 286.7h.01M487.7 179.2h.01M347.4 241.5h.01M508.0 71.2h.01M593.9 193.7h.01M224.6 274.0h.01M438.3 87.9h.01M587.9 168.8h.01M559.8 145.2h.01M539.1 329.9h.01M302.1 250.7h.01M365.6 131.4h.01M220.0 396.5h.01M70.3 227.5h.01M638.1 127.2h.01M341.8 73.2h.01M485.3 174.5h.01M376.9 72.5h.01M408.7 331.6h.01M208.0 240.7h.01M590.5 94.8h.01M508.1 375.5h.01M586.6 331.0h.01M524.2 324.1h.01M102.9 242.1h.01M591.3 159.4h.01M228.2 118.2h.01M105.2 145.7h.01M126.9 377.6h.01M584.7 58.5h.01M540.6 396.1h.01M152.1 321.2h.01M347.2 129.8h.01M580.1 306.3h.01M414.4 248.0h.01M511.7 265.2h.01M229.9 258.1h.01M585.9 257.9h.01M355.8 164.6h.01M285.0 335.5h.01M287.5 410.3h.01M540.2 175.4h.01M151.2 380.4h.01M518.2 114.6h.01M283.9 43.4h.01M170.6 241.2h.01M470.7 178.8h.01M510.9 410.7h.01M239.4 151.7h.01M233.1 219.0h.01M644.6 101.5h.01M545.3 356.3h.01M113.9 119.9h.01M531.9 160.9h.01M638.8 107.7h.01M531.4 269.8h.01M537.1 182.3h.01M90.9 82.2h.01M157.4 346.3h.01M217.7 362.8h.01M490.0 328.7h.01M612.2 314.3h.01M370.2 364.6h.01M388.9 215.0h.01M335.3 396.9h.01M140.0 257.9h.01M505.2 369.7h.01M451.4 186.3h.01M132.7 280.9h.01M304.8 415.7h.01M459.3 147.9h.01M353.2 364.2h.01M118.7 367.1h.01M134.9 416.7h.01M483.2 435.4h.01M79.5 96.2h.01M131.2 325.7h.01M655.7 60.7h.01M384.4 191.4h.01M323.6 262.5h.01M289.4 278.3h.01M119.1 217.8h.01M545.3 350.9h.01M290.9 340.5h.01M183.8 300.6h.01M501.5 49.3h.01M583.0 79.2h.01M626.7 440.5h.01M115.2 261.0h.01M423.8 330.2h.01M171.7 279.9h.01M312.8 237.6h.01M139.6 72.0h.01M231.0 113.7h.01M376.4 278.1h.01M182.5 373.2h.01M609.9 303.3h.01M441.8 430.5h.01M74.0 341.9h.01M409.4 245.7h.01M266.7 396.9h.01M355.9 231.6h.01M305.5 249.6h.01M264.4 432.1h.01M77.1 140.8h.01M126.3 324.6h.01M351.0 132.5h.01M143.0 160.9h.01M104.9 430.9h.01M522.7 263.7h.01M251.7 322.3h.01M626.0 61.5h.01M127.1 428.9h.01M616.7 319.3h.01M625.8 296.5h.01M222.3 151.1h.01M582.9 301.1h.01M507.4 384.8h.01M525.4 413.3h.01M470.3 367.7h.01M490.2 175.8h.01M101.5 306.4h.01M489.4 333.5h.01M299.9 402.0h.01M588.6 69.7h.01M452.9 254.7h.01M383.7 394.8h.01M511.6 205.2h.01M375.0 370.4h.01M100.2 267.8h.01M468.2 421.3h.01M283.9 262.3h.01M351.5 394.0h.01M362.8 348.4h.01M309.3 52.0h.01M293.5 281.4h.01M168.7 245.0h.01M225.7 278.5h.01M472.0 258.8h.01M449.6 42.8h.01M552.7 228.5h.01M285.7 137.4h.01M239.1 284.2h.01M645.8 94.9h.01M198.7 112.6h.01M108.1 51.5h.01M636.5 452.5h.01M314.1 311.6h.01M598.1 334.4h.01M515.8 68.9h.01M430.9 50.1h.01M637.5 194.4h.01M318.3 227.0h.01M570.5 209.3h.01M608.3 442.3h.01M70.1 262.6h.01M275.6 40.6h.01M556.5 361.3h.01M347.9 277.4h.01M346.6 244.7h.01M287.6 324.5h.01M288.7 419.5h.01M290.9 188.6h.01M654.6 345.2h.01M314.5 90.2h.01M570.3 410.3h.01M435.9 452.0h.01M601.9 115.3h.01M418.5 277.8h.01M594.4 261.7h.01M591.4 203.2h.01M648.5 205.1h.01M517.1 408.9h.01M291.3 250.9h.01M568.7 311.2h.01M276.8 283.0h.01M563.3 273.0h.01M389.7 422.8h.01M143.8 396.4h.01M88.0 85.4h.01M224.0 263.5h.01M443.6 189.6h.01M461.2 103.9h.01M91.8 284.9h.01M307.6 64.0h.01M117.8 188.8h.01M583.8 423.9h.01M466.8 446.8h.01M269.3 223.1h.01M303.2 129.0h.01M522.2 89.2h.01M592.7 408.9h.01M532.9 206.5h.01M243.8 245.9h.01M369.3 378.1h.01M221.0 146.3h.01M111.7 274.2h.01M124.4 329.5h.01M343.3 374.2h.01M386.7 286.5h.01M75.5 382.9h.01M433.4 425.8h.01M384.7 232.4h.01M155.0 209.5h.01M164.4 235.9h.01M591.8 102.6h.01M491.1 422.8h.01M595.3 398.4h.01M186.4 99.7h.01M614.3 170.8h.01M473.7 223.4h.01M531.0 291.4h.01M233.5 392.1h.01M473.9 347.4h.01M173.7 220.3h.01M592.2 177.3h.01M79.8 320.7h.01M459.2 80.3h.01M165.4 310.8h.01M230.6 245.3h.01M508.2 270.5h.01M91.9 133.5h.01M445.5 186.8h.01M329.5 266.5h.01M647.5 430.8h.01M424.5 73.8h.01M538.7 239.9h.01M476.7 75.8h.01M345.9 82.2h.01M584.7 62.9h.01M348.1 256.9h.01M319.8 41.6h.01M113.9 389.8h.01M253.3 72.8h.01M253.5 260.1h.01M145.3 324.0h.01M142.9 419.5h.01M98.0 63.8h.01M283.6 351.5h.01M527.5 333.3h.01M172.7 235.0h.01M473.8 234.9h.01M378.1 394.7h.01M122.6 292.7h.01M542.0 152.6h.01M598.8 172.7h.01M630.1 286.0h.01M541.0 216.0h.01M596.4 131.9h.01M373.3 101.6h.01M431.9 207.3h.01M146.0 291.7h.01M580.2 390.2h.01M291.1 211.6h.01M488.2 227.1h.01M117.3 48.4h.01M508.5 148.6h.01M275.5 252.8h.01M99.0 187.6h.01M587.2 175.0h.01M257.1 331.4h.01M401.1 425.4h.01M260.2 332.8h.01M241.4 119.3h.01M224.8 345.5h.01M328.0 53.4h.01M337.3 412.1h.01M646.0 41.5h.01M154.4 285.1h.01M225.9 201.4h.01M435.5 74.5h.01M598.8 83.1h.01M404.8 303.6h.01M218.0 190.2h.01M106.7 191.3h.01M296.5 309.8h.01M312.1 401.3h.01M611.5 332.5h.01M655.2 181.6h.01M341.3 194.6h.01M386.0 154.2h.01M605.1 195.0h.01M430.9 99.5h.01M521.7 326.6h.01M561.5 333.9h.01M600.4 323.5h.01M78.6 209.2h.01M274.9 296.4h.01M595.5 213.6h.01M126.8 40.8h.01M594.5 60.5h.01M647.0 80.0h.01M83.9 380.7h.01M228.5 354.4h.01M546.2 376.1h.01M551.3 265.4h.01M344.1 119.4h.01M305.0 363.5h.01M481.4 110.6h.01M420.8 261.5h.01M580.9 118.3h.01M324.6 237.3h.01M487.9 104.3h.01M594.5 180.5h.01M452.6 389.2h.01M458.8 307.1h.01M368.0 232.3h.01M355.2 203.8h.01M204.0 346.1h.01M227.6 212.9h.01M468.8 150.6h.01M252.6 118.5h.01M383.9 418.2h.01M384.4 313.8h.01M263.6 305.6h.01M74.5 364.7h.01M507.8 257.0h.01M408.7 217.7h.01M401.1 276.0h.01M487.1 159.4h.01M85.0 394.6h.01M374.9 143.4h.01M107.4 138.0h.01M440.3 210.4h.01M516.1 347.0h.01M447.9 140.2h.01M459.2 99.0h.01M610.1 322.3h.01M635.6 423.9h.01M322.1 431.1h.01M178.8 143.4h.01M306.7 339.8h.01M218.7 242.2h.01M191.6 47.1h.01M548.6 426.1h.01M202.2 62.6h.01M387.9 196.1h.01M174.8 377.8h.01M515.1 224.7h.01M148.3 334.0h.01M581.2 105.5h.01M201.2 106.7h.01M84.3 430.3h.01M579.8 160.6h.01M597.5 391.8h.01M609.2 99.8h.01M142.8 281.1h.01M484.5 276.2h.01M493.1 426.9h.01M408.5 169.1h.01M422.9 268.9h.01M310.4 102.8h.01M134.1 408.5h.01M614.5 289.8h.01M554.3 272.3h.01M285.5 48.4h.01M178.8 399.5h.01M421.3 429.7h.01M474.3 279.7h.01M475.0 194.4h.01M265.1 272.6h.01M197.6 220.2h.01M557.4 170.7h.01M630.3 78.8h.01M192.1 205.5h.01M607.5 223.2h.01M330.3 111.1h.01M602.2 386.0h.01M129.2 117.6h.01M221.3 121.4h.01M83.5 275.4h.01M193.5 393.9h.01M639.8 383.5h.01M650.6 182.1h.01M68.3 204.0h.01M372.0 293.2h.01M496.9 327.2h.01M464.3 202.7h.01M392.5 112.2h.01M374.4 256.5h.01M191.7 78.1h.01M233.8 57.6h.01M319.8 375.3h.01M389.8 152.1h.01M506.5 196.7h.01M527.6 451.2h.01M254.0 76.1h.01M224.8 301.9h.01M194.2 300.3h.01M548.5 41.5h.01M235.6 214.8h.01M458.9 243.8h.01M356.4 320.2h.01M419.8 461.4h.01M171.4 215.8h.01M317.6 222.7h.01M454.7 339.8h.01M413.5 295.5h.01M92.2 63.1h.01M219.2 96.1h.01M117.1 161.2h.01M80.9 429.1h.01M379.4 151.8h.01M458.4 64.6h.01M311.5 132.0h.01M459.6 166.5h.01M255.7 188.6h.01M628.5 449.2h.01M652.6 423.3h.01M217.0 122.1h.01M129.0 423.4h.01M363.3 355.0h.01M616.0 368.8h.01M181.1 246.1h.01M413.6 45.2h.01M503.8 366.1h.01M332.8 368.3h.01M500.9 82.0h.01M414.4 279.4h.01M234.4 169.6h.01M537.3 385.3h.01M292.4 157.9h.01M92.5 369.4h.01M318.4 206.7h.01M213.1 324.8h.01M370.0 189.9h.01M156.0 120.0h.01M190.6 129.2h.01M473.4 172.1h.01M639.5 344.4h.01M168.2 294.1h.01M527.9 211.0h.01M291.7 73.7h.01M462.8 179.3h.01M351.9 224.7h.01M164.7 261.5h.01M533.1 404.4h.01M230.7 278.5h.01M337.2 95.9h.01M129.9 330.2h.01M169.6 337.7h.01M578.1 257.8h.01M200.0 168.1h.01M581.6 200.2h.01M628.2 433.2h.01M559.4 453.7h.01M117.8 251.1h.01M76.9 169.8h.01M82.3 67.8h.01M285.5 307.8h.01M148.9 58.6h.01M234.7 257.7h.01M262.2 284.9h.01M66.1 429.4h.01M640.2 64.0h.01M418.6 152.4h.01M490.1 249.6h.01M300.6 322.7h.01M321.9 287.6h.01M422.2 78.0h.01M307.4 255.1h.01M90.0 363.3h.01M223.6 109.2h.01M398.9 408.3h.01M103.3 200.0h.01M195.2 291.9h.01M607.2 344.4h.01M499.1 103.2h.01M491.9 136.1h.01M605.5 385.7h.01M238.2 378.1h.01M471.8 215.3h.01M285.0 149.1h.01M122.1 146.6h.01M651.6 44.0h.01M500.7 293.3h.01M586.9 182.1h.01M216.9 197.1h.01M536.4 447.6h.01M319.8 113.5h.01M125.7 261.7h.01M438.5 75.4h.01M149.8 44.5h.01M463.9 380.3h.01M481.2 99.8h.01M349.8 117.8h.01M351.8 316.7h.01M431.5 363.2h.01M442.4 440.4h.01M408.5 403.9h.01M451.9 307.6h.01M593.4 337.6h.01M447.4 414.9h.01M511.7 95.5h.01M185.0 128.1h.01M505.8 146.2h.01M572.8 217.8h.01M572.0 346.6h.01M488.6 294.0h.01M209.1 397.7h.01M453.8 428.3h.01M243.0 320.2h.01M90.8 168.5h.01M181.8 183.8h.01M409.2 156.3h.01M605.4 354.0h.01M101.5 353.9h.01M290.7 125.1h.01M207.1 60.9h.01M230.7 377.4h.01M500.2 311.8h.01M379.3 119.4h.01M116.8 148.4h.01M86.4 373.3h.01M645.0 334.8h.01M174.6 415.8h.01M418.3 308.8h.01M281.0 375.1h.01M217.1 345.3h.01M191.1 363.9h.01M457.6 209.2h.01M94.6 85.0h.01M467.1 404.2h.01M379.6 108.6h.01M205.4 76.7h.01M131.6 205.6h.01M179.3 289.1h.01M196.0 126.6h.01M70.5 51.3h.01M600.3 56.7h.01M197.7 261.7h.01M362.1 151.7h.01M402.6 186.7h.01M654.2 166.9h.01M351.4 230.3h.01M209.8 80.8h.01M642.2 274.5h.01M349.9 219.2h.01M246.5 149.0h.01M521.8 187.7h.01M133.4 369.7h.01M614.6 155.0h.01M212.9 92.0h.01M604.1 143.7h.01M381.6 160.3h.01M370.1 209.0h.01M163.3 92.2h.01M368.8 123.3h.01M605.3 265.1h.01M336.3 150.6h.01M226.4 139.2h.01M245.2 207.6h.01M445.8 212.2h.01M374.3 340.0h.01M558.0 415.0h.01M322.9 214.8h.01M292.0 234.5h.01M451.4 439.2h.01M573.4 248.7h.01M261.7 96.0h.01M342.1 94.3h.01M392.8 282.3h.01M290.6 230.5h.01M66.4 98.2h.01M644.3 269.1h.01M654.2 265.6h.01M206.3 319.9h.01M207.5 152.8h.01M318.1 175.8h.01M359.3 352.9h.01M191.3 58.4h.01M564.2 145.1h.01M618.5 236.8h.01M94.4 49.6h.01M350.4 387.7h.01M279.8 138.4h.01M427.8 408.0h.01M372.9 381.9h.01M282.8 325.5h.01M391.0 399.5h.01M411.4 299.5h.01M270.6 138.4h.01M545.6 201.4h.01M607.3 105.4h.01M177.6 203.4h.01M489.7 426.6h.01M515.3 46.8h.01M451.8 443.5h.01M605.1 237.9h.01M248.2 431.1h.01M123.7 226.9h.01M558.0 105.4h.01M532.4 69.6h.01M351.8 269.2h.01M565.8 42.1h.01M423.4 125.5h.01M470.0 449.5h.01M118.7 394.1h.01M81.1 220.8h.01M185.2 110.7h.01M636.4 180.9h.01M135.8 96.1h.01M619.3 221.5h.01M492.5 377.3h.01" stroke="#b4b4b4" stroke-width="1.8" stroke-linecap="round" fill="none"/><path d="M100.2 254.4h.01M88.1 223.3h.01M436.2 440.0h.01M406.5 207.7h.01M248.0 384.5h.01M172.6 285.6h.01M467.4 220.7h.01M251.3 287.3h.01M375.9 409.4h.01M496.4 161.9h.01M89.1 322.2h.01M517.1 282.0h.01M561.6 438.7h.01M345.7 320.4h.01M293.6 322.3h.01M79.3 235.1h.01M296.7 407.8h.01M113.5 229.8h.01M277.7 413.2h.01M631.1 104.1h.01M68.4 217.1h.01M283.9 279.2h.01M596.7 369.3h.01M582.0 376.8h.01M189.2 108.9h.01M266.6 62.7h.01M428.3 103.1h.01M214.8 186.9h.01M116.7 83.6h.01M268.2 152.1h.01M575.4 333.9h.01M220.1 195.1h.01M544.8 455.6h.01M569.1 380.3h.01M82.5 158.3h.01M218.9 332.4h.01M196.1 136.1h.01M182.1 126.6h.01M116.0 318.9h.01M602.8 370.2h.01M639.3 207.3h.01M493.6 112.2h.01M644.4 317.5h.01M272.7 271.8h.01M553.4 129.5h.01M214.6 164.0h.01M274.7 233.6h.01M410.2 421.7h.01M325.7 117.7h.01M68.3 377.4h.01M393.7 371.1h.01M128.6 276.7h.01M604.4 227.3h.01M427.4 253.6h.01M621.9 149.9h.01M561.6 98.3h.01M528.5 418.6h.01M157.1 342.3h.01M650.0 391.4h.01M161.3 222.4h.01M392.9 226.2h.01M76.7 180.2h.01M89.4 368.8h.01M225.6 95.1h.01M118.8 64.7h.01M472.0 219.8h.01M333.7 183.5h.01M392.3 431.1h.01M250.1 169.1h.01M514.1 162.7h.01M498.5 272.8h.01M177.8 240.6h.01M297.9 254.1h.01M471.8 454.6h.01M98.1 95.2h.01M107.7 352.8h.01M232.3 142.6h.01M238.9 234.2h.01M66.6 201.4h.01M346.0 252.4h.01M90.6 50.0h.01M245.5 138.6h.01M295.8 178.0h.01M647.0 103.5h.01M499.0 382.9h.01M148.2 261.3h.01M468.9 332.7h.01M201.7 53.6h.01M435.5 327.4h.01M354.7 41.9h.01M109.9 152.4h.01M496.3 127.0h.01M518.5 300.6h.01M445.2 73.2h.01M101.8 153.8h.01M462.5 332.3h.01M593.3 124.5h.01M643.1 435.1h.01M190.3 285.6h.01M628.1 96.4h.01M68.1 247.7h.01M149.0 185.5h.01M612.6 341.0h.01M597.9 162.7h.01M228.3 60.8h.01M213.1 152.5h.01M621.0 272.0h.01M490.5 61.4h.01M612.8 94.2h.01M344.6 185.4h.01M394.8 206.7h.01M164.7 108.6h.01M179.5 78.7h.01M267.8 78.9h.01M310.2 261.4h.01M288.4 183.1h.01M575.1 131.5h.01M225.9 145.2h.01M85.0 339.6h.01M594.5 240.0h.01M639.6 145.2h.01M374.2 328.0h.01M446.8 168.5h.01M441.4 335.0h.01M420.6 44.9h.01M243.9 234.7h.01M632.8 337.5h.01M247.4 49.7h.01M265.5 217.8h.01M468.7 124.0h.01M549.8 137.8h.01M196.7 361.0h.01M152.4 206.3h.01M149.7 62.4h.01M615.6 179.3h.01M506.3 53.9h.01M231.1 188.6h.01M629.8 92.6h.01M285.9 428.1h.01M179.9 194.0h.01M86.6 66.9h.01M608.8 148.8h.01M220.7 342.6h.01M252.7 156.7h.01M630.5 442.6h.01M294.0 146.3h.01M551.4 366.2h.01M424.3 178.7h.01M211.9 67.8h.01M86.0 273.4h.01M484.8 228.9h.01M204.2 216.2h.01M562.1 164.3h.01M400.5 197.7h.01M407.2 178.1h.01M365.3 138.0h.01M561.9 425.9h.01M89.8 164.3h.01M577.0 229.8h.01M219.4 368.3h.01M149.4 126.5h.01M216.4 293.2h.01M250.2 126.2h.01M535.2 271.5h.01M162.6 333.6h.01M307.8 159.9h.01M280.6 123.6h.01M69.5 420.5h.01M444.0 424.0h.01M118.5 302.8h.01M130.2 247.2h.01M540.8 448.0h.01M612.4 204.0h.01M599.5 302.0h.01M194.7 209.0h.01M371.6 202.2h.01M512.9 56.6h.01M419.7 272.3h.01M329.6 225.3h.01M79.8 301.4h.01M345.2 85.6h.01M141.8 222.0h.01M498.8 368.3h.01M367.8 63.4h.01M531.1 432.7h.01M104.7 188.4h.01M188.9 151.3h.01M364.5 175.0h.01M133.9 264.2h.01M441.4 192.1h.01M536.6 152.1h.01M650.4 283.9h.01M411.7 320.2h.01M250.5 41.3h.01M143.9 136.3h.01M451.3 49.9h.01M413.6 126.6h.01M434.1 240.7h.01M303.2 151.9h.01M72.8 312.3h.01M92.0 264.5h.01M305.5 140.7h.01M365.1 310.9h.01M545.9 114.1h.01M505.7 236.6h.01M503.6 231.2h.01M476.1 396.8h.01M485.9 152.6h.01M585.2 46.9h.01M219.6 140.0h.01M438.1 332.5h.01M458.5 453.2h.01M402.5 170.2h.01M191.1 302.9h.01M83.0 58.1h.01M474.6 307.7h.01M549.5 416.2h.01M605.5 438.5h.01M440.2 388.3h.01M438.6 161.6h.01M78.3 148.7h.01M232.7 342.2h.01M84.3 214.5h.01M323.5 366.3h.01M549.7 112.3h.01M66.8 125.7h.01M233.4 131.0h.01M478.7 250.5h.01M436.5 190.4h.01M302.7 206.8h.01M289.8 413.1h.01M203.8 234.8h.01M456.6 353.2h.01M166.0 225.5h.01M179.0 167.6h.01M480.9 396.1h.01M259.6 120.3h.01M641.3 347.7h.01M181.8 309.4h.01M295.1 54.8h.01M149.7 295.0h.01M304.8 352.8h.01M492.1 411.5h.01M522.7 335.6h.01M123.7 217.4h.01M437.5 145.9h.01M174.0 316.4h.01M525.1 204.3h.01M125.6 282.7h.01M385.2 342.8h.01M297.6 362.0h.01M275.7 64.4h.01M273.8 152.3h.01M198.4 353.0h.01M142.3 367.8h.01M543.6 307.9h.01M342.2 164.6h.01M389.5 93.3h.01M317.4 118.9h.01M67.6 344.7h.01M613.9 400.6h.01M99.7 389.5h.01M125.9 100.7h.01M203.8 367.7h.01M424.9 369.8h.01M460.4 417.3h.01M324.8 412.6h.01M393.5 152.0h.01M355.9 250.5h.01M384.3 404.2h.01M441.9 308.6h.01M82.8 297.5h.01M265.8 403.7h.01M282.0 240.5h.01M553.8 164.0h.01M554.4 210.7h.01M242.5 287.7h.01M440.5 371.0h.01M69.7 120.6h.01M609.6 297.1h.01M459.5 233.5h.01M516.0 83.2h.01M551.3 372.0h.01M397.6 149.2h.01M89.2 90.6h.01M544.1 283.0h.01M644.7 240.9h.01M309.3 83.5h.01M118.0 407.0h.01M490.4 142.6h.01M496.5 76.0h.01M436.9 339.4h.01M249.5 348.0h.01M163.9 403.4h.01M151.5 376.6h.01M280.3 312.3h.01M400.4 163.7h.01M480.9 389.3h.01M318.9 414.8h.01M288.2 329.2h.01M403.4 155.9h.01M469.9 425.6h.01M424.1 326.1h.01M340.5 127.6h.01M521.6 138.7h.01M408.0 418.6h.01M172.6 336.0h.01M280.1 278.4h.01M530.5 106.3h.01M418.4 185.9h.01M624.4 363.9h.01M215.9 56.5h.01M602.9 67.6h.01M418.9 208.0h.01M330.5 107.8h.01M635.8 458.5h.01M530.0 339.6h.01M447.5 455.9h.01M415.0 360.0h.01M128.2 177.0h.01M489.2 122.7h.01M87.2 431.5h.01M551.6 241.8h.01M436.6 100.7h.01M223.2 214.1h.01M157.9 154.8h.01M99.5 417.8h.01M460.3 129.5h.01M123.6 162.5h.01M594.8 64.7h.01M175.6 224.0h.01M604.1 132.5h.01M112.8 77.3h.01M425.0 249.3h.01M185.4 68.2h.01M498.3 212.5h.01M603.0 241.4h.01M580.5 152.7h.01M68.7 259.6h.01M329.0 257.8h.01M102.1 408.4h.01M628.9 249.1h.01M173.6 83.8h.01M213.8 384.9h.01M406.1 260.9h.01M480.6 83.9h.01M305.3 98.2h.01M415.2 403.4h.01M295.4 217.7h.01M561.4 262.0h.01M546.9 397.8h.01M97.6 258.6h.01M321.5 253.3h.01M78.3 99.3h.01M587.9 55.0h.01M444.5 152.5h.01M373.0 223.3h.01M627.0 161.7h.01M224.4 237.1h.01M381.0 103.1h.01M117.8 270.8h.01M561.5 297.6h.01M249.2 142.6h.01M196.7 256.5h.01M394.4 247.6h.01M240.3 366.0h.01M130.5 135.4h.01M632.0 351.8h.01M550.5 258.7h.01M501.9 353.8h.01M517.7 287.4h.01M403.5 216.6h.01M492.6 164.0h.01M296.5 274.6h.01M174.7 168.6h.01M409.1 77.6h.01M317.6 424.3h.01M72.3 60.5h.01M470.3 204.7h.01M277.1 291.2h.01M404.7 411.4h.01M635.0 245.6h.01M166.7 174.6h.01M368.4 87.1h.01M158.3 162.7h.01M367.8 253.3h.01M308.7 372.5h.01M247.0 331.6h.01M359.7 273.7h.01M404.9 213.8h.01M427.7 380.5h.01M102.6 45.8h.01M124.7 421.5h.01M409.5 187.6h.01M421.5 445.2h.01M209.3 204.8h.01M209.6 113.6h.01M277.5 119.1h.01M303.9 68.1h.01M138.7 388.6h.01M457.9 184.4h.01M158.0 338.0h.01M540.9 107.6h.01M274.2 345.0h.01M283.1 144.3h.01M424.8 130.1h.01M293.0 317.6h.01M296.1 76.8h.01M241.2 68.3h.01M249.7 135.9h.01M586.8 403.5h.01M144.0 157.1h.01M478.6 145.2h.01M565.6 188.9h.01M89.9 57.4h.01M161.6 124.0h.01M561.3 280.8h.01M488.8 147.9h.01M569.9 296.5h.01M93.9 143.5h.01M507.1 389.8h.01M231.9 78.4h.01M436.6 231.3h.01M98.0 334.8h.01M220.1 270.8h.01M638.0 309.2h.01M249.2 98.1h.01M483.1 323.0h.01M149.7 277.9h.01M262.8 384.2h.01M518.0 390.8h.01M133.5 162.5h.01M257.4 238.0h.01M280.2 111.4h.01M644.3 278.1h.01M322.2 120.5h.01M211.1 98.9h.01M82.3 366.9h.01M552.9 175.4h.01M283.4 272.8h.01M600.1 438.8h.01M158.9 166.8h.01M325.3 120.9h.01M492.5 41.7h.01M369.6 218.0h.01M265.8 225.4h.01M257.0 234.6h.01M639.1 423.5h.01M241.3 281.2h.01M628.2 243.1h.01M285.5 285.3h.01M399.2 207.6h.01M379.2 146.5h.01M354.7 274.0h.01M306.7 71.5h.01M325.3 404.5h.01M297.3 112.7h.01M632.4 277.8h.01M191.7 166.9h.01M483.4 220.0h.01M165.1 354.7h.01M267.4 362.4h.01M422.2 82.5h.01M389.8 379.0h.01M560.5 285.5h.01M133.0 49.3h.01M290.7 101.3h.01M582.5 267.4h.01M173.5 385.4h.01M466.9 206.0h.01M110.8 179.3h.01M413.6 58.9h.01M69.5 284.6h.01M262.9 49.1h.01M220.6 280.3h.01M651.4 54.9h.01M535.2 408.4h.01M619.8 327.7h.01M390.9 211.6h.01M101.7 182.6h.01M70.3 407.6h.01M333.3 228.3h.01M609.5 286.4h.01M113.2 115.8h.01M217.9 50.2h.01M481.6 132.5h.01M499.0 446.5h.01M420.6 73.9h.01M582.5 310.2h.01M610.5 130.0h.01M99.9 215.1h.01M92.8 304.5h.01M611.9 278.3h.01M648.6 64.1h.01M518.6 78.4h.01M546.3 218.9h.01M503.2 149.2h.01M485.7 362.2h.01M346.7 316.7h.01M522.8 193.3h.01M393.6 117.1h.01M620.5 194.6h.01M525.1 142.7h.01M645.6 250.8h.01M104.6 312.6h.01M303.1 404.7h.01M198.2 146.7h.01M220.8 223.3h.01M158.5 404.3h.01M509.4 387.3h.01M189.8 412.9h.01M278.6 369.2h.01M155.0 350.7h.01M468.8 78.5h.01M472.8 56.5h.01M320.0 84.7h.01M171.6 329.4h.01M361.4 87.9h.01M227.1 115.2h.01M222.1 69.6h.01M472.0 315.8h.01M386.9 271.8h.01M655.0 42.7h.01M424.6 430.9h.01M563.4 370.9h.01M602.0 61.4h.01M415.5 459.8h.01M204.3 305.8h.01M465.5 176.3h.01M437.1 269.4h.01M196.5 100.4h.01M613.1 263.4h.01M337.6 310.5h.01M554.2 417.3h.01M156.8 146.5h.01M539.9 260.3h.01M513.7 103.7h.01M467.3 195.2h.01M184.5 281.0h.01M100.1 115.7h.01M441.3 402.5h.01M185.0 218.9h.01M486.4 164.9h.01M306.7 313.7h.01M639.1 340.6h.01M285.7 321.1h.01M597.8 359.6h.01M81.1 290.4h.01M368.0 388.1h.01M461.5 352.6h.01M135.7 133.5h.01M111.5 385.1h.01M485.5 244.0h.01M98.3 331.8h.01M228.1 151.1h.01M250.7 148.0h.01M185.2 62.5h.01M382.7 198.1h.01M96.2 173.0h.01M380.5 212.9h.01M539.5 290.1h.01M328.5 410.6h.01M417.8 116.4h.01M538.4 250.5h.01M607.5 127.7h.01M528.7 441.3h.01M396.7 105.4h.01M604.0 177.2h.01M197.8 270.5h.01M121.2 236.3h.01M610.8 460.4h.01M237.5 187.2h.01M418.7 268.4h.01M118.2 99.4h.01M453.4 61.6h.01M262.5 230.0h.01M123.4 313.1h.01M143.9 284.1h.01M581.3 242.9h.01M153.9 80.1h.01M162.8 266.2h.01M365.0 195.1h.01M402.5 330.9h.01M201.3 356.6h.01M407.3 139.1h.01M417.2 371.0h.01M430.8 332.1h.01M546.6 184.7h.01M306.2 77.6h.01M210.5 349.8h.01M349.0 250.1h.01M525.8 423.3h.01M272.0 108.9h.01M635.8 324.1h.01M414.3 224.0h.01M579.8 166.5h.01M214.7 393.9h.01M336.2 140.2h.01M621.6 388.6h.01M451.0 393.0h.01M422.8 233.3h.01M263.9 130.6h.01M456.0 380.7h.01M137.2 328.4h.01M298.7 251.1h.01M649.2 120.4h.01M574.7 257.1h.01M288.2 431.9h.01M438.8 198.9h.01M601.2 250.5h.01M628.3 416.2h.01M151.3 288.2h.01M387.1 217.8h.01M643.1 314.0h.01M405.3 388.6h.01M534.3 186.9h.01M250.1 63.0h.01M241.6 201.9h.01M130.0 150.2h.01M298.4 203.0h.01M395.7 323.2h.01M510.1 156.6h.01M553.7 279.3h.01M222.7 143.1h.01M446.4 448.2h.01M523.0 206.8h.01M175.6 407.9h.01M379.8 260.2h.01M362.3 399.6h.01M460.0 284.1h.01M596.0 419.4h.01M504.4 386.5h.01M228.3 68.9h.01M422.0 387.9h.01M539.2 192.1h.01M478.7 70.9h.01M100.9 228.4h.01M393.4 380.8h.01M189.3 394.3h.01M543.1 266.9h.01M411.1 209.2h.01M368.1 288.7h.01M647.9 70.6h.01M347.9 96.9h.01M303.7 159.6h.01M180.6 350.7h.01M625.5 428.3h.01M492.3 343.8h.01M162.6 307.0h.01M651.0 169.4h.01M126.3 85.5h.01M156.8 368.2h.01M189.5 146.7h.01M78.5 423.6h.01M545.0 395.1h.01M289.6 44.3h.01M107.9 176.8h.01M434.5 413.7h.01M127.4 289.7h.01M140.5 124.8h.01M493.4 63.2h.01M343.7 209.2h.01M149.6 423.7h.01M419.5 66.9h.01M88.6 80.0h.01M641.9 378.8h.01M512.7 84.3h.01M176.3 380.7h.01M67.3 399.4h.01M394.0 386.7h.01M387.8 163.1h.01M300.2 43.7h.01M274.0 80.1h.01M496.8 398.7h.01M519.6 43.4h.01M110.2 88.4h.01M498.3 376.2h.01M604.6 393.4h.01M326.6 338.3h.01M215.1 167.2h.01M78.3 137.8h.01M259.9 365.2h.01M282.6 267.0h.01M635.7 108.4h.01M74.0 150.2h.01M488.3 457.7h.01M82.3 331.8h.01M634.9 311.6h.01M279.3 100.5h.01M638.0 330.3h.01M616.1 184.8h.01M557.0 53.4h.01M150.8 81.4h.01M645.8 201.9h.01M280.5 345.1h.01M147.6 372.6h.01M234.3 201.0h.01M517.2 134.9h.01M324.6 89.3h.01M337.4 340.4h.01M279.1 238.3h.01M618.6 274.3h.01M572.2 86.9h.01M115.0 152.3h.01M187.1 319.9h.01M646.7 243.5h.01M502.9 266.9h.01M204.1 250.8h.01M598.6 117.1h.01M199.9 292.5h.01M179.0 356.2h.01M303.2 326.7h.01M255.9 212.0h.01M268.5 322.3h.01M218.1 231.9h.01M397.5 340.5h.01M204.2 111.1h.01M411.5 231.2h.01M127.4 47.9h.01M236.9 162.3h.01M538.6 419.3h.01M633.8 121.7h.01M462.5 377.5h.01M71.7 240.9h.01M203.4 222.0h.01M597.1 138.5h.01M87.0 97.8h.01M305.6 217.9h.01M324.0 114.4h.01M350.2 47.9h.01M181.8 363.4h.01M243.5 148.3h.01M494.1 155.3h.01M168.2 333.8h.01M348.5 149.5h.01M98.4 75.9h.01M496.0 184.5h.01M96.2 105.4h.01M121.6 287.6h.01M178.9 338.8h.01M147.5 121.7h.01M409.7 86.0h.01M196.4 163.1h.01M443.5 331.8h.01M158.8 135.9h.01M521.1 389.1h.01M98.8 297.3h.01M118.6 61.2h.01M136.6 254.1h.01M373.6 193.4h.01M351.3 147.0h.01M460.4 134.0h.01M613.3 434.1h.01M431.1 84.7h.01M431.4 166.9h.01M106.4 356.9h.01M519.1 97.4h.01M128.9 70.3h.01M639.3 89.8h.01M219.1 352.7h.01M499.1 95.1h.01M129.1 383.4h.01M570.2 175.9h.01M312.9 386.8h.01M627.7 178.4h.01M287.0 189.2h.01M540.5 458.1h.01M495.6 358.7h.01M550.2 186.0h.01M563.9 397.9h.01M389.2 232.6h.01M266.2 370.5h.01M536.0 136.2h.01M107.7 69.0h.01M404.2 85.1h.01M412.6 390.0h.01M631.6 333.8h.01M139.7 425.9h.01M531.4 190.8h.01M539.0 132.8h.01M260.1 349.1h.01M176.2 271.0h.01M514.1 406.6h.01M188.4 50.4h.01M218.9 156.8h.01M314.0 256.8h.01M370.8 114.5h.01M185.2 287.3h.01M116.9 69.9h.01M149.8 234.4h.01M161.1 213.4h.01M161.5 132.6h.01M344.1 123.9h.01M415.3 101.5h.01M275.1 306.0h.01M608.9 209.8h.01M414.1 326.0h.01M173.6 89.1h.01M272.4 264.7h.01M347.4 180.7h.01M160.5 331.3h.01M78.8 121.9h.01M118.9 430.4h.01M507.3 402.4h.01M88.5 64.1h.01M139.3 49.7h.01M215.5 138.6h.01M641.0 459.8h.01M100.8 264.0h.01M467.6 54.6h.01M264.8 207.4h.01M622.6 402.7h.01M529.7 257.5h.01M310.3 322.6h.01M650.6 330.5h.01M253.8 359.8h.01M154.0 361.3h.01M404.3 422.9h.01M494.6 148.7h.01M496.9 313.9h.01M317.8 281.5h.01M543.0 360.2h.01M649.1 268.5h.01M502.8 95.8h.01M175.3 98.1h.01M264.4 109.5h.01M570.4 227.5h.01M124.0 425.6h.01M165.0 98.3h.01M343.5 248.4h.01M588.8 195.5h.01M632.3 454.3h.01M82.9 126.7h.01M139.2 160.3h.01M574.9 322.9h.01M278.6 295.4h.01M651.3 326.4h.01M486.8 41.2h.01M171.8 391.3h.01M370.2 176.9h.01M225.5 102.8h.01M628.6 459.4h.01M159.3 103.5h.01M413.2 378.1h.01M74.9 65.0h.01M315.4 140.3h.01M294.6 181.9h.01M461.3 392.3h.01M118.4 314.0h.01M315.9 170.5h.01M566.0 313.6h.01M158.4 304.0h.01M461.1 223.1h.01M456.1 79.0h.01M263.6 152.7h.01M302.4 330.7h.01M461.2 249.4h.01M543.2 163.6h.01M92.7 342.0h.01M538.5 88.1h.01M282.4 340.7h.01M324.4 42.0h.01M488.9 89.1h.01M290.5 323.5h.01M576.4 288.4h.01M625.2 279.0h.01M412.9 134.3h.01M363.3 217.0h.01M484.1 385.5h.01M350.7 348.7h.01M203.9 371.1h.01M452.2 325.5h.01M353.7 196.1h.01M225.2 245.9h.01M174.2 107.0h.01M569.1 180.2h.01M325.3 208.0h.01M77.9 204.9h.01M78.0 324.7h.01M426.5 164.3h.01M256.0 55.8h.01M257.9 312.1h.01M280.3 420.8h.01M207.8 401.5h.01M200.4 303.9h.01M525.0 395.5h.01M191.4 41.4h.01M121.2 78.8h.01M645.3 111.8h.01M367.3 248.6h.01M133.5 317.2h.01M379.9 178.6h.01M335.8 391.2h.01M287.2 349.7h.01M168.1 312.5h.01M446.3 97.9h.01M145.5 170.6h.01M466.4 270.7h.01M280.8 229.5h.01M638.2 387.0h.01M565.0 115.2h.01M75.3 415.7h.01M596.2 183.3h.01M81.4 182.4h.01M650.0 226.0h.01M535.5 158.9h.01M574.6 101.0h.01M478.6 236.1h.01M198.2 132.1h.01M81.7 358.1h.01M607.9 239.4h.01M365.0 372.2h.01M288.4 284.4h.01M194.5 224.9h.01M575.0 372.0h.01M466.1 384.1h.01M294.9 103.3h.01M383.3 225.8h.01M285.3 242.8h.01M473.8 105.2h.01M285.2 372.8h.01M492.4 88.6h.01M87.6 359.5h.01M297.6 172.2h.01M338.2 282.8h.01M210.6 275.5h.01M563.4 238.6h.01M143.3 167.0h.01M78.9 226.6h.01M257.7 292.2h.01M80.8 345.7h.01M283.5 116.2h.01M637.6 176.1h.01M447.3 391.4h.01M325.9 362.0h.01M228.9 104.8h.01M311.6 54.8h.01M328.2 426.4h.01M75.3 104.2h.01M197.2 74.8h.01M214.6 142.1h.01M503.9 81.6h.01M323.9 159.2h.01M411.6 166.6h.01M644.8 416.7h.01M650.2 438.1h.01M543.7 275.7h.01M112.9 404.4h.01M127.6 241.0h.01M449.2 330.2h.01M402.0 257.7h.01M651.6 236.7h.01M530.6 240.8h.01M250.4 195.8h.01M401.1 129.9h.01M198.0 397.9h.01M632.6 136.8h.01M124.7 339.7h.01M649.8 414.2h.01M139.5 398.0h.01M157.1 268.0h.01M222.9 208.7h.01M619.0 368.4h.01M328.8 235.1h.01M356.9 181.4h.01M328.9 374.8h.01M76.5 243.1h.01M310.0 398.7h.01M446.9 253.5h.01M256.6 296.3h.01M408.4 45.8h.01M292.3 150.8h.01M126.3 348.8h.01M134.3 293.0h.01M515.1 300.4h.01M261.8 269.4h.01M583.1 65.6h.01M532.3 53.5h.01M258.0 287.8h.01M629.1 368.9h.01M522.7 434.8h.01M77.0 154.6h.01M479.4 285.1h.01M137.9 378.3h.01M553.4 81.6h.01M439.9 391.4h.01M400.5 156.7h.01M214.5 269.3h.01M137.9 368.6h.01M518.1 169.6h.01M128.8 187.6h.01M109.3 357.8h.01M307.4 230.0h.01M84.3 184.1h.01M141.1 202.8h.01M238.8 159.4h.01M609.8 436.5h.01M331.3 279.4h.01M650.5 243.3h.01M291.6 394.3h.01M604.2 422.3h.01M635.0 99.1h.01M286.8 389.8h.01M192.1 357.7h.01M406.1 415.8h.01M281.7 85.8h.01M414.7 269.3h.01M317.2 145.9h.01M526.4 226.6h.01M383.1 265.1h.01M91.9 245.8h.01M86.2 351.0h.01M542.0 291.6h.01M451.9 206.0h.01M202.1 395.9h.01M73.6 227.9h.01M272.5 361.1h.01M404.1 384.2h.01M188.9 371.0h.01M354.7 55.9h.01M516.9 308.8h.01M381.7 292.5h.01M496.4 284.0h.01M168.0 348.9h.01M508.4 333.7h.01M626.2 443.7h.01M248.3 46.2h.01M191.1 89.7h.01M532.8 277.3h.01M145.1 413.8h.01M360.0 320.9h.01M179.5 304.6h.01M534.9 81.1h.01M433.6 403.4h.01M631.4 83.6h.01M528.3 345.3h.01M243.7 270.3h.01M80.9 246.7h.01M423.5 47.2h.01M611.1 225.3h.01M90.3 98.1h.01M652.9 352.3h.01M90.9 333.6h.01M356.9 247.6h.01M367.8 256.6h.01M649.5 131.2h.01M244.0 347.8h.01M187.6 274.4h.01M190.0 85.4h.01M493.0 354.7h.01M403.8 94.9h.01M317.3 218.1h.01M76.0 344.6h.01M415.2 195.2h.01M592.7 393.1h.01M477.9 376.3h.01M336.9 101.7h.01M101.7 349.0h.01M496.9 91.8h.01M201.1 184.9h.01M423.6 87.2h.01M308.2 303.2h.01M246.6 301.1h.01M597.4 257.7h.01M163.6 121.6h.01M143.7 130.6h.01M317.0 428.8h.01M278.1 335.0h.01M106.7 150.0h.01M190.9 387.3h.01M451.8 88.3h.01M92.3 109.8h.01M645.2 358.0h.01M645.3 148.4h.01M125.5 124.3h.01M541.4 453.0h.01M272.5 119.2h.01M212.2 109.9h.01M168.7 142.4h.01M369.1 241.3h.01M472.6 86.2h.01M471.0 375.2h.01M303.5 94.0h.01M293.2 272.9h.01M530.7 281.8h.01M135.4 148.1h.01M535.7 411.9h.01M253.2 101.8h.01M266.4 175.9h.01M368.8 354.8h.01M393.6 193.3h.01M538.5 169.1h.01M462.8 310.6h.01M615.1 62.3h.01M158.2 262.8h.01M300.8 242.4h.01M398.0 379.8h.01M487.3 246.8h.01M111.0 280.7h.01M255.9 150.6h.01M630.1 346.8h.01M553.3 72.2h.01M196.9 50.4h.01M377.6 167.2h.01M487.4 239.1h.01M339.7 161.0h.01M569.6 384.5h.01M354.1 114.6h.01M132.3 396.2h.01M265.5 423.5h.01M396.8 192.5h.01M624.7 410.2h.01M608.9 70.6h.01M477.0 187.3h.01M496.8 322.8h.01M563.3 212.9h.01M175.2 214.0h.01M67.7 79.4h.01M511.0 292.9h.01M281.1 48.3h.01M161.8 210.1h.01M479.2 177.1h.01M461.2 196.6h.01M141.7 298.4h.01M390.4 418.4h.01M652.9 275.2h.01M450.8 405.8h.01M186.0 186.1h.01M81.9 262.2h.01M439.2 125.8h.01M68.4 145.7h.01M361.3 55.9h.01M608.2 427.4h.01M500.1 335.6h.01M379.9 48.8h.01M266.9 187.6h.01M533.1 91.4h.01M73.9 79.6h.01M521.0 378.4h.01M523.0 431.3h.01M322.6 94.5h.01M654.5 249.6h.01M500.9 282.1h.01M306.8 279.5h.01M553.2 301.5h.01M200.2 278.5h.01M411.2 371.5h.01M282.2 40.8h.01M187.1 41.5h.01M219.4 143.2h.01M597.3 233.2h.01M187.1 386.1h.01M436.8 301.9h.01M289.0 69.5h.01M549.2 391.5h.01M463.3 139.0h.01M381.5 111.9h.01M111.4 188.1h.01M399.9 293.9h.01M378.5 183.8h.01M488.9 309.5h.01M632.0 449.6h.01M354.7 220.4h.01M649.9 461.5h.01M271.4 251.3h.01M254.5 353.5h.01M635.8 225.6h.01M444.7 291.2h.01M283.6 156.7h.01M593.4 134.3h.01M546.4 239.3h.01M591.9 242.0h.01M404.6 404.3h.01M155.0 242.9h.01M163.2 141.7h.01M489.7 267.1h.01M599.9 98.9h.01M590.4 230.5h.01M426.5 80.5h.01M508.8 219.0h.01M110.9 204.3h.01M639.5 190.0h.01M96.9 151.5h.01M441.6 448.7h.01M595.1 277.5h.01M425.0 43.0h.01M129.0 146.2h.01M399.6 401.1h.01M550.2 237.5h.01M217.0 255.5h.01M559.7 420.7h.01M619.5 145.0h.01M160.5 194.3h.01M194.1 148.6h.01M342.6 258.6h.01M618.7 246.1h.01M87.1 230.9h.01M558.9 294.2h.01M446.7 380.7h.01M117.7 235.9h.01M261.8 103.4h.01M453.4 313.0h.01M598.3 248.1h.01M258.6 319.6h.01M481.0 302.2h.01M350.6 320.7h.01M601.7 316.1h.01M159.3 400.9h.01M558.2 269.2h.01M512.7 394.5h.01M585.1 69.9h.01M277.1 329.8h.01M638.5 157.1h.01M515.8 193.9h.01M425.0 262.6h.01M258.7 44.2h.01M397.1 351.9h.01M158.9 360.7h.01M171.3 183.1h.01M258.0 402.5h.01M438.0 225.9h.01M229.6 262.0h.01M389.7 188.6h.01M491.6 57.1h.01M483.8 163.4h.01M489.9 315.5h.01M407.3 146.4h.01M544.1 325.3h.01M624.2 197.9h.01M522.7 404.8h.01M471.3 255.2h.01M630.2 446.2h.01M137.9 407.4h.01M229.3 390.7h.01M84.9 75.1h.01M483.9 249.9h.01M364.2 58.8h.01M586.9 284.8h.01M78.9 109.7h.01M451.6 298.8h.01M195.2 336.2h.01M430.3 340.5h.01M637.6 440.9h.01M265.5 386.9h.01M123.4 395.5h.01M118.0 412.3h.01M338.6 214.1h.01M474.5 431.9h.01M542.2 242.8h.01M572.4 119.2h.01M482.7 193.0h.01M456.7 248.4h.01M226.3 255.9h.01M168.9 169.6h.01M505.4 300.1h.01M174.0 118.7h.01M379.0 321.7h.01M165.4 393.9h.01M509.8 43.5h.01M139.1 191.2h.01M195.9 123.1h.01M428.3 177.3h.01M148.7 167.2h.01M509.7 47.2h.01M367.0 149.9h.01M187.6 138.1h.01M372.2 249.2h.01M602.8 302.9h.01M340.7 420.6h.01M631.6 282.1h.01M565.2 334.5h.01M404.2 321.4h.01M85.3 377.2h.01M626.9 270.0h.01M257.8 352.4h.01M398.2 97.3h.01M252.1 269.0h.01M252.2 315.3h.01M224.6 296.8h.01M300.2 232.6h.01M362.4 46.9h.01M138.7 179.7h.01M450.0 166.9h.01M510.9 60.2h.01M473.7 302.5h.01M101.9 414.0h.01M373.3 407.4h.01M365.9 286.4h.01M611.5 107.8h.01M437.2 444.6h.01M311.2 188.1h.01M339.6 347.4h.01M143.8 315.8h.01M308.5 144.6h.01M476.9 102.2h.01M389.6 62.2h.01M172.0 142.2h.01M89.2 272.9h.01M148.9 201.2h.01M541.3 82.1h.01M516.6 124.3h.01M568.0 336.9h.01M71.5 393.9h.01M372.2 314.9h.01M196.5 172.0h.01M506.8 413.7h.01M294.5 111.3h.01M632.8 297.3h.01M457.3 359.0h.01M408.6 292.3h.01M73.8 304.0h.01M366.7 375.7h.01M242.8 262.2h.01M375.9 53.3h.01M642.6 338.5h.01M422.4 148.6h.01M648.3 208.7h.01M364.5 358.1h.01M75.4 121.7h.01M169.3 188.9h.01M428.6 394.8h.01M571.0 55.2h.01M549.6 445.5h.01M462.9 226.1h.01M91.2 308.9h.01M652.2 191.1h.01M476.1 271.8h.01M143.3 234.0h.01M314.6 45.2h.01M273.5 261.1h.01M372.3 111.2h.01M654.2 98.9h.01M589.2 451.2h.01M541.5 61.8h.01M510.9 239.6h.01M417.0 259.0h.01M352.8 99.3h.01M506.8 222.4h.01M506.0 291.7h.01M139.6 276.1h.01M323.6 230.7h.01M320.9 191.2h.01M322.3 156.1h.01M288.9 263.3h.01M76.2 95.0h.01M374.6 136.4h.01M134.7 387.1h.01M254.5 428.6h.01M401.2 343.1h.01M267.8 296.0h.01M225.3 161.1h.01M297.6 315.4h.01M83.0 144.4h.01M265.0 314.3h.01M508.6 303.0h.01M351.5 360.4h.01M98.1 154.5h.01M615.7 159.7h.01M328.4 160.2h.01M463.9 413.8h.01M587.3 413.6h.01M148.7 110.5h.01M432.1 194.8h.01M260.1 382.7h.01M315.0 378.6h.01M638.8 358.8h.01M615.9 47.1h.01M354.0 79.0h.01M500.3 350.5h.01M263.5 367.7h.01M321.7 295.4h.01M591.9 281.7h.01M360.6 257.4h.01M280.8 246.8h.01M527.6 248.5h.01M231.4 42.5h.01M494.8 391.1h.01M280.0 217.5h.01M329.8 310.4h.01M175.3 42.1h.01M429.6 212.2h.01M601.3 417.9h.01M620.5 113.0h.01M236.5 197.7h.01M493.0 96.9h.01M94.4 322.4h.01M410.7 255.8h.01M300.6 393.2h.01M275.3 373.3h.01M233.6 284.2h.01M335.8 125.3h.01M181.3 396.7h.01M418.7 61.3h.01M357.1 192.8h.01M580.8 175.9h.01M331.8 385.2h.01M99.0 180.9h.01M146.4 114.0h.01M162.5 350.3h.01M512.4 244.1h.01M323.5 256.2h.01M566.7 200.6h.01M225.4 60.5h.01M596.6 72.1h.01M472.0 361.6h.01M128.6 397.9h.01M539.9 382.8h.01M435.0 386.8h.01M245.3 416.5h.01M492.8 280.4h.01M294.6 387.3h.01M562.0 355.6h.01M598.0 59.7h.01M453.6 454.5h.01M438.4 311.7h.01M559.2 301.1h.01M334.5 163.5h.01M332.4 62.6h.01M510.1 253.7h.01M400.8 58.8h.01M653.5 211.9h.01M135.9 181.9h.01M606.3 114.0h.01M271.9 300.1h.01M487.5 215.8h.01M479.5 278.1h.01M640.0 413.3h.01M527.3 196.7h.01M166.8 163.1h.01M94.0 280.7h.01M515.9 157.7h.01M415.9 212.0h.01M546.3 211.1h.01M98.1 45.3h.01M402.4 138.2h.01M600.7 80.5h.01M160.8 185.2h.01M473.8 422.7h.01M486.3 425.3h.01M310.1 68.1h.01M302.5 265.4h.01M97.8 407.7h.01M640.1 85.3h.01M197.6 159.1h.01M328.5 414.4h.01M524.3 242.7h.01M270.0 273.4h.01M296.6 185.6h.01M577.5 195.3h.01M467.2 115.0h.01M556.7 310.4h.01M516.2 262.7h.01M556.2 291.1h.01M340.9 379.2h.01M133.8 46.0h.01M558.9 237.9h.01M240.6 83.8h.01M236.9 130.4h.01M568.2 307.0h.01M422.3 219.8h.01M143.3 253.5h.01M469.1 265.7h.01M491.0 200.0h.01M479.1 334.8h.01M208.0 225.9h.01M145.2 60.4h.01M608.3 199.2h.01M515.3 418.3h.01M343.1 144.4h.01M502.8 271.1h.01M447.0 86.9h.01M644.4 169.7h.01M481.6 68.5h.01M90.0 406.8h.01M614.3 142.7h.01M523.1 147.8h.01M247.3 274.2h.01M503.3 115.6h.01M283.0 289.0h.01M152.0 297.3h.01M192.6 349.2h.01M428.6 200.0h.01M206.0 349.1h.01M77.0 298.4h.01M148.9 214.0h.01M582.4 388.0h.01M486.2 133.2h.01M148.3 367.4h.01M283.1 152.7h.01M162.2 361.8h.01M314.9 224.6h.01M121.4 151.1h.01M390.6 129.7h.01M218.8 307.3h.01M273.5 287.3h.01M196.2 236.6h.01M388.3 290.5h.01M424.8 365.7h.01M349.5 341.2h.01M534.7 417.2h.01M383.0 188.6h.01M586.5 160.7h.01M452.8 41.1h.01M578.1 77.3h.01M600.2 64.5h.01M599.1 156.1h.01M539.7 280.9h.01M244.1 41.1h.01M193.2 410.2h.01M71.6 273.0h.01M165.2 136.0h.01M332.1 270.0h.01M424.3 442.0h.01M639.7 278.6h.01M232.5 165.9h.01M641.1 262.4h.01M311.2 282.0h.01M332.5 303.4h.01M647.8 90.7h.01M96.0 213.6h.01M593.6 82.4h.01M108.5 64.2h.01M425.8 350.6h.01M337.2 432.1h.01M246.1 248.9h.01M392.9 168.8h.01M181.2 145.4h.01M464.3 214.1h.01M229.5 338.6h.01M520.8 209.2h.01M84.6 281.3h.01M616.4 343.4h.01M151.0 305.6h.01M291.9 254.4h.01M608.1 376.5h.01M233.6 192.1h.01M373.0 94.3h.01M208.8 185.4h.01M459.3 229.0h.01M402.9 262.9h.01M422.6 363.3h.01M429.6 455.9h.01M363.8 207.0h.01M482.1 314.1h.01M97.2 249.2h.01M455.5 291.7h.01M587.7 235.8h.01M343.7 140.5h.01M198.9 104.8h.01M344.7 310.4h.01M542.1 98.9h.01M641.9 425.8h.01M480.4 262.2h.01M268.3 142.9h.01M498.8 264.7h.01M599.0 150.9h.01M482.5 203.0h.01M339.7 172.4h.01M84.4 199.6h.01M625.2 373.7h.01M622.8 156.8h.01M236.6 230.6h.01M112.6 161.0h.01M407.5 317.2h.01M640.7 232.4h.01M236.0 254.7h.01M249.0 229.3h.01M601.6 75.2h.01M531.8 350.1h.01M467.4 94.5h.01M628.0 301.9h.01M498.3 296.1h.01M298.7 428.6h.01M203.6 153.9h.01M541.7 71.6h.01M605.4 403.7h.01M149.8 399.3h.01M317.9 328.3h.01M514.1 275.0h.01M644.4 265.8h.01M516.7 215.4h.01M147.1 394.9h.01M364.2 76.0h.01M414.0 95.0h.01M331.1 286.1h.01M470.5 73.3h.01M498.7 177.6h.01M98.3 230.3h.01M522.7 180.2h.01M167.1 317.7h.01M488.9 397.5h.01M294.0 129.3h.01M179.9 215.6h.01M148.5 411.1h.01M327.1 398.0h.01M234.9 205.4h.01M478.0 394.4h.01M440.1 273.4h.01M512.0 68.8h.01M460.9 52.6h.01M272.0 70.8h.01M449.0 65.6h.01M422.9 99.5h.01M554.9 429.4h.01M83.6 419.8h.01M444.1 53.9h.01M533.4 46.3h.01M180.3 69.8h.01M191.3 226.8h.01M469.5 133.9h.01M458.7 368.7h.01M560.5 291.5h.01M238.5 277.7h.01M554.7 153.8h.01M287.0 186.0h.01M133.8 340.7h.01M135.1 217.1h.01M383.4 382.2h.01M390.6 257.4h.01M143.4 114.8h.01M553.4 219.6h.01M185.5 241.9h.01M301.8 335.6h.01M477.1 405.8h.01M520.1 126.8h.01M225.7 98.3h.01M495.0 307.8h.01M471.8 309.7h.01M305.7 379.4h.01M139.4 293.0h.01M574.1 105.8h.01M441.6 344.9h.01M624.9 125.9h.01M164.2 113.0h.01M78.5 65.6h.01M406.0 395.7h.01M110.7 390.8h.01M75.4 61.9h.01M294.5 61.6h.01M162.3 310.2h.01M313.1 111.9h.01M68.9 324.6h.01M237.6 75.8h.01M344.5 397.6h.01M610.6 269.3h.01M587.1 444.1h.01M181.8 254.3h.01M607.1 281.1h.01M207.8 237.3h.01M130.0 100.2h.01M201.2 158.4h.01M461.6 404.3h.01M230.9 282.7h.01M256.0 166.6h.01M613.1 369.9h.01M630.4 146.0h.01M104.5 127.2h.01M115.6 352.5h.01M275.3 70.9h.01M449.2 322.3h.01M268.9 125.3h.01M452.5 399.2h.01M423.1 412.6h.01M152.6 373.1h.01" stroke="#a6a6a6" stroke-width="2.1" stroke-linecap="round" fill="none"/></g><path d="M66 432.3V40.5H656" stroke="#a0a0a0" stroke-width="1" fill="none"/><path d="M66 432.3H144.3L236.6 398.6" stroke="#a0a0a0" stroke-width="1" fill="none"/><path d="M248 432.3H346.2M373 432.3H414.5V462" stroke="#a0a0a0" stroke-width="1" fill="none"/><g transform="translate(105.9 159.1) rotate(23.6)"><rect x="0.00" y="-0.40" width="66.00" height="53.70" fill="#fff"/><rect x="64.00" y="12.30" width="74.80" height="66.50" fill="#fff"/><rect x="136.00" y="26.10" width="76.00" height="35.00" fill="#fff"/></g><g transform="translate(215.3 79.3) rotate(-15.8)"><rect x="0.00" y="-0.60" width="76.20" height="44.00" fill="#fff"/><polygon points="11.8,37 89.9,41 91.3,158.3 14,158.3" fill="#fff"/><rect x="50.50" y="150.00" width="40.80" height="38.00" fill="#fff"/></g><g transform="translate(429.7 97.3) rotate(22.5)"><rect x="0.00" y="0.00" width="53.30" height="122.00" fill="#fff"/><rect x="0.00" y="115.00" width="35.00" height="36.00" fill="#fff"/></g><g transform="translate(437.7 292.1) rotate(-20.5)"><rect x="-2.00" y="-0.40" width="60.00" height="28.70" fill="#fff"/><rect x="55.50" y="-24.50" width="65.80" height="65.50" fill="#fff"/><rect x="121.00" y="-10.70" width="29.30" height="65.00" fill="#fff"/></g><g transform="translate(106.3 331.1) rotate(-11.1)"><rect x="0.00" y="0.00" width="53.50" height="66.20" fill="#fff"/><rect x="53.00" y="7.00" width="79.80" height="59.20" fill="#fff"/><rect x="131.00" y="13.00" width="40.00" height="41.50" fill="#fff"/></g><g transform="translate(236.6 398.4) rotate(-19.5)"><rect x="0.00" y="0.00" width="57.00" height="34.50" fill="#fff"/></g><path d="M303.63 423.11L275.66 346.24A87.7 87.7 0 0 1 438.32 287.04L466.29 363.91Z" fill="#fff"/><circle cx="356.0" cy="317.0" r="87.7" fill="#fff"/><g transform="translate(105.9 159.1) rotate(23.6)"><clipPath id="ca1"><polygon points="0,4 47.3,4 0,24.7"/></clipPath><clipPath id="ca2"><polygon points="20,49.3 66,29.2 66,49.3"/></clipPath><g clip-path="url(#ca1)"><path d="M0.00 5.20H50.00M0.00 7.30H50.00M0.00 9.40H50.00M0.00 11.50H50.00M0.00 13.60H50.00M0.00 15.70H50.00M0.00 17.80H50.00M0.00 19.90H50.00M0.00 22.00H50.00M0.00 24.10H50.00" stroke="#222" stroke-width="0.5" fill="none"/><path d="M14.00 4.00V26.00M30.00 4.00V26.00" stroke="#222" stroke-width="0.55" fill="none"/></g><g clip-path="url(#ca2)"><path d="M18.00 30.50H67.00M18.00 32.60H67.00M18.00 34.70H67.00M18.00 36.80H67.00M18.00 38.90H67.00M18.00 41.00H67.00M18.00 43.10H67.00M18.00 45.20H67.00M18.00 47.30H67.00" stroke="#222" stroke-width="0.5" fill="none"/><path d="M38.00 28.00V50.00M52.00 28.00V50.00" stroke="#222" stroke-width="0.55" fill="none"/></g><path d="M0 24.7L47.3 4M20 49.3L66 29.2" stroke="#555" stroke-width="0.4" fill="none"/><line x1="0.00" y1="6.00" x2="0.00" y2="28.50" stroke="#222" stroke-width="0.55" fill="none"/><path d="M135.60 29.90V57.20M137.80 29.90V57.20" stroke="#222" stroke-width="0.55" fill="none"/><path d="M134.5 60H121.5A5.25 5.25 0 0 0 121.5 70.5H134.5Z" stroke="#222" stroke-width="0.55" fill="none"/><rect x="127" y="60.3" width="7" height="9.9" rx="1.5" stroke="#222" stroke-width="0.55" fill="none"/><path d="M62.2 16H66L64.6 23.5Z" fill="#000" stroke="none"/><path d="M135 29.8H138.8L137.2 35Z" fill="#000" stroke="none"/></g><g transform="translate(215.3 79.3) rotate(-15.8)"><line x1="2.00" y1="1.20" x2="74.00" y2="0.40" stroke="#222" stroke-width="0.55" fill="none"/><path d="M18 40.2L72.5 42M18 42.5L72.5 44.3" stroke="#222" stroke-width="0.55" fill="none"/><line x1="54.50" y1="154.30" x2="86.50" y2="153.60" stroke="#222" stroke-width="0.55" fill="none"/><path d="M54.5 179.7H86.5M54.5 181.6H86.5M54.5 184.2H86.5" stroke="#222" stroke-width="0.55" fill="none"/><rect x="52.50" y="181.00" width="3.00" height="3.20" fill="#000"/><rect x="85.50" y="180.50" width="3.00" height="3.20" fill="#000"/></g><g transform="translate(429.7 97.3) rotate(22.5)"><path d="M0 53V0L39.4 1.2" stroke="#222" stroke-width="0.55" fill="none"/><path d="M0.00 2.50H49.30M0.00 5.05H49.30M0.00 7.60H49.30M0.00 10.15H49.30M0.00 12.70H49.30M0.00 15.25H49.30M0.00 17.80H49.30M0.00 20.35H49.30M0.00 22.90H49.30M0.00 25.45H49.30M0.00 28.00H49.30M0.00 30.55H49.30M0.00 33.10H49.30M0.00 35.65H49.30M0.00 38.20H49.30M0.00 40.75H49.30M0.00 43.30H49.30M0.00 45.85H49.30M0.00 48.40H49.30M0.00 50.95H49.30M0.00 53.50H49.30M0.00 56.05H49.30M0.00 58.60H49.30" stroke="#222" stroke-width="0.5" fill="none"/><path d="M2.6 34V53M5.2 28V53M7.8 22V53M10.4 20V53M13 20V53M15.2 30V59" stroke="#222" stroke-width="0.5" fill="none"/><path d="M39.5 6V59M42 7V59M44.5 8V59M47 9V59" stroke="#222" stroke-width="0.5" fill="none"/><path d="M13.5 18L18 59M36.5 5L41 34L39 59" stroke="#222" stroke-width="0.5" fill="none"/><path d="M6.30 59.50V148.00M8.30 59.50V148.00M10.60 59.50V148.00" stroke="#888" stroke-width="0.35" fill="none"/><path d="M43.00 59.50V118.00M45.30 59.50V118.00M47.00 59.50V118.00" stroke="#888" stroke-width="0.35" fill="none"/><path d="M6.30 59.50L6.30 59.50M4.80 59.50L6.30 61.00M4.00 60.20L6.30 62.50M4.00 61.70L6.30 64.00M4.00 63.20L6.30 65.50M4.00 64.70L6.30 67.00M4.00 66.20L6.30 68.50M4.00 67.70L6.30 70.00M4.00 69.20L6.30 71.50M4.00 70.70L6.30 73.00M4.00 72.20L6.30 74.50M4.00 73.70L6.30 76.00M4.00 75.20L6.30 77.50M4.00 76.70L6.30 79.00M4.00 78.20L6.30 80.50M4.00 79.70L6.30 82.00M4.00 81.20L6.30 83.50M4.00 82.70L6.30 85.00M4.00 84.20L6.30 86.50M4.00 85.70L6.30 88.00M4.00 87.20L6.30 89.50M4.00 88.70L6.30 91.00M4.00 90.20L6.30 92.50M4.00 91.70L6.30 94.00M4.00 93.20L6.30 95.50M4.00 94.70L6.30 97.00M4.00 96.20L6.30 98.50M4.00 97.70L6.30 100.00M4.00 99.20L6.30 101.50M4.00 100.70L6.30 103.00M4.00 102.20L6.30 104.50M4.00 103.70L6.30 106.00M4.00 105.20L6.30 107.50M4.00 106.70L6.30 109.00M4.00 108.20L6.30 110.50M4.00 109.70L6.30 112.00M4.00 111.20L6.30 113.50M4.00 112.70L6.30 115.00M4.00 114.20L6.30 116.50M4.00 115.70L6.30 118.00M4.00 117.20L6.30 119.50M4.00 118.70L6.30 121.00M4.00 120.20L6.30 122.50M4.00 121.70L6.30 124.00M4.00 123.20L6.30 125.50M4.00 124.70L6.30 127.00M4.00 126.20L6.30 128.50M4.00 127.70L6.30 130.00M4.00 129.20L6.30 131.50M4.00 130.70L6.30 133.00M4.00 132.20L6.30 134.50M4.00 133.70L6.30 136.00M4.00 135.20L6.30 137.50M4.00 136.70L6.30 139.00M4.00 138.20L6.30 140.50M4.00 139.70L6.30 142.00M4.00 141.20L6.30 143.50M4.00 142.70L6.30 145.00M4.00 144.20L6.30 146.50M4.00 145.70L6.30 148.00M4.00 147.20L4.80 148.00" stroke="#777" stroke-width="0.35" fill="none"/><path d="M10.60 59.50L10.60 59.50M9.10 59.50L10.60 61.00M8.30 60.20L10.60 62.50M8.30 61.70L10.60 64.00M8.30 63.20L10.60 65.50M8.30 64.70L10.60 67.00M8.30 66.20L10.60 68.50M8.30 67.70L10.60 70.00M8.30 69.20L10.60 71.50M8.30 70.70L10.60 73.00M8.30 72.20L10.60 74.50M8.30 73.70L10.60 76.00M8.30 75.20L10.60 77.50M8.30 76.70L10.60 79.00M8.30 78.20L10.60 80.50M8.30 79.70L10.60 82.00M8.30 81.20L10.60 83.50M8.30 82.70L10.60 85.00M8.30 84.20L10.60 86.50M8.30 85.70L10.60 88.00M8.30 87.20L10.60 89.50M8.30 88.70L10.60 91.00M8.30 90.20L10.60 92.50M8.30 91.70L10.60 94.00M8.30 93.20L10.60 95.50M8.30 94.70L10.60 97.00M8.30 96.20L10.60 98.50M8.30 97.70L10.60 100.00M8.30 99.20L10.60 101.50M8.30 100.70L10.60 103.00M8.30 102.20L10.60 104.50M8.30 103.70L10.60 106.00M8.30 105.20L10.60 107.50M8.30 106.70L10.60 109.00M8.30 108.20L10.60 110.50M8.30 109.70L10.60 112.00M8.30 111.20L10.60 113.50M8.30 112.70L10.60 115.00M8.30 114.20L10.60 116.50M8.30 115.70L10.60 118.00M8.30 117.20L10.60 119.50M8.30 118.70L10.60 121.00M8.30 120.20L10.60 122.50M8.30 121.70L10.60 124.00M8.30 123.20L10.60 125.50M8.30 124.70L10.60 127.00M8.30 126.20L10.60 128.50M8.30 127.70L10.60 130.00M8.30 129.20L10.60 131.50M8.30 130.70L10.60 133.00M8.30 132.20L10.60 134.50M8.30 133.70L10.60 136.00M8.30 135.20L10.60 137.50M8.30 136.70L10.60 139.00M8.30 138.20L10.60 140.50M8.30 139.70L10.60 142.00M8.30 141.20L10.60 143.50M8.30 142.70L10.60 145.00M8.30 144.20L10.60 146.50M8.30 145.70L10.60 148.00M8.30 147.20L9.10 148.00" stroke="#777" stroke-width="0.35" fill="none"/><path d="M43.80 59.50L45.30 61.00M43.00 60.20L45.30 62.50M43.00 61.70L45.30 64.00M43.00 63.20L45.30 65.50M43.00 64.70L45.30 67.00M43.00 66.20L45.30 68.50M43.00 67.70L45.30 70.00M43.00 69.20L45.30 71.50M43.00 70.70L45.30 73.00M43.00 72.20L45.30 74.50M43.00 73.70L45.30 76.00M43.00 75.20L45.30 77.50M43.00 76.70L45.30 79.00M43.00 78.20L45.30 80.50M43.00 79.70L45.30 82.00M43.00 81.20L45.30 83.50M43.00 82.70L45.30 85.00M43.00 84.20L45.30 86.50M43.00 85.70L45.30 88.00M43.00 87.20L45.30 89.50M43.00 88.70L45.30 91.00M43.00 90.20L45.30 92.50M43.00 91.70L45.30 94.00M43.00 93.20L45.30 95.50M43.00 94.70L45.30 97.00M43.00 96.20L45.30 98.50M43.00 97.70L45.30 100.00M43.00 99.20L45.30 101.50M43.00 100.70L45.30 103.00M43.00 102.20L45.30 104.50M43.00 103.70L45.30 106.00M43.00 105.20L45.30 107.50M43.00 106.70L45.30 109.00M43.00 108.20L45.30 110.50M43.00 109.70L45.30 112.00M43.00 111.20L45.30 113.50M43.00 112.70L45.30 115.00M43.00 114.20L45.30 116.50M43.00 115.70L45.30 118.00M43.00 117.20L43.80 118.00" stroke="#777" stroke-width="0.35" fill="none"/><path d="M47.80 59.50L49.30 61.00M47.00 60.20L49.30 62.50M47.00 61.70L49.30 64.00M47.00 63.20L49.30 65.50M47.00 64.70L49.30 67.00M47.00 66.20L49.30 68.50M47.00 67.70L49.30 70.00M47.00 69.20L49.30 71.50M47.00 70.70L49.30 73.00M47.00 72.20L49.30 74.50M47.00 73.70L49.30 76.00M47.00 75.20L49.30 77.50M47.00 76.70L49.30 79.00M47.00 78.20L49.30 80.50M47.00 79.70L49.30 82.00M47.00 81.20L49.30 83.50M47.00 82.70L49.30 85.00M47.00 84.20L49.30 86.50M47.00 85.70L49.30 88.00M47.00 87.20L49.30 89.50M47.00 88.70L49.30 91.00M47.00 90.20L49.30 92.50M47.00 91.70L49.30 94.00M47.00 93.20L49.30 95.50M47.00 94.70L49.30 97.00M47.00 96.20L49.30 98.50M47.00 97.70L49.30 100.00M47.00 99.20L49.30 101.50M47.00 100.70L49.30 103.00M47.00 102.20L49.30 104.50M47.00 103.70L49.30 106.00M47.00 105.20L49.30 107.50M47.00 106.70L49.30 109.00M47.00 108.20L49.30 110.50M47.00 109.70L49.30 112.00M47.00 111.20L49.30 113.50M47.00 112.70L49.30 115.00M47.00 114.20L49.30 116.50M47.00 115.70L49.30 118.00M47.00 117.20L47.80 118.00" stroke="#777" stroke-width="0.35" fill="none"/><path d="M4.00 73.40H49.30M4.00 85.60H49.30M4.00 97.80H49.30M4.00 110.00H49.30" stroke="#222" stroke-width="0.55" fill="none"/><path d="M4.00 122.20H31.00M4.00 128.00H31.00M4.00 134.00H31.00M4.00 140.00H31.00" stroke="#222" stroke-width="0.55" fill="none"/><path d="M4.00 144.00H31.00M4.00 145.60H31.00M4.00 147.40H31.00" stroke="#444" stroke-width="0.4" fill="none"/><rect x="2.50" y="145.50" width="3.00" height="3.00" fill="#000"/><rect x="29.00" y="146.00" width="3.00" height="3.00" fill="#000"/></g><g transform="translate(437.7 292.1) rotate(-20.5)"><path d="M121.50 -5.50H150.30M121.50 -3.05H150.30M121.50 -0.60H150.30M121.50 1.85H150.30M121.50 4.30H150.30M121.50 6.75H150.30M121.50 9.20H150.30M121.50 11.65H150.30M121.50 14.10H150.30M121.50 16.55H150.30M121.50 19.00H150.30M121.50 21.45H150.30M121.50 23.90H150.30M121.50 26.35H150.30M121.50 28.80H150.30M121.50 31.25H150.30M121.50 33.70H150.30M121.50 36.15H150.30M121.50 38.60H150.30M121.50 41.05H150.30M121.50 43.50H150.30M121.50 45.95H150.30M121.50 48.40H150.30M121.50 50.85H150.30" stroke="#1a1a1a" stroke-width="0.65" fill="none"/><line x1="137.40" y1="-6.70" x2="137.40" y2="40.00" stroke="#222" stroke-width="0.55" fill="none"/><line x1="150.30" y1="-10.70" x2="150.30" y2="54.00" stroke="#222" stroke-width="0.55" fill="none"/><path d="M117.50 -6.70V37.00M119.60 -6.70V37.00" stroke="#222" stroke-width="0.55" fill="none"/><rect x="61.6" y="-18.4" width="53.7" height="53.6" stroke="#555" stroke-width="0.45" fill="none"/><rect x="63.4" y="-16.6" width="50.1" height="50" stroke="#555" stroke-width="0.45" fill="none"/><path d="M56.60 3.60V24.30M58.40 3.60V24.30" stroke="#222" stroke-width="0.55" fill="none"/><path d="M-1.6 3.6V24.3M-0.2 3.6V24.3M1.6 3.6V24.3" stroke="#222" stroke-width="0.55" fill="none"/><path d="M85.6 -18.3L98.7 -9.4L97.6 -7.7L88.4 -12.1ZM92.4 -18.6L113 -15.3L111.5 -11.8L97 -14.5Z" stroke="#444" stroke-width="0.45" fill="#fff"/><path d="M135.8 42.6L141.8 42.0M135.8 42.6L143.0 43.6M135.8 42.6L141.5 45.2M135.8 42.6L139.1 47.1M135.8 42.6L138.2 49.1M135.8 42.6L137.4 48.9M135.8 42.6L135.6 48.0M135.8 42.6L133.4 47.7M135.8 42.6L131.0 48.3M135.8 42.6L132.9 46.7M135.8 42.6L129.5 46.3M135.8 42.6L129.8 45.0M135.8 42.6L128.7 42.9M135.8 42.6L129.4 39.8M135.8 42.6L129.4 39.8M135.8 42.6L130.5 37.5M135.8 42.6L131.9 36.0M135.8 42.6L135.2 35.3M135.8 42.6L136.7 35.4M135.8 42.6L137.2 38.1M135.8 42.6L139.6 38.1M135.8 42.6L139.1 37.9M135.8 42.6L139.9 40.1M135.8 42.6L140.2 42.2" stroke="#222" stroke-width="0.75" fill="none"/><path d="M141.8 42.0h.01M141.5 45.2h.01M138.2 49.1h.01M135.6 48.0h.01M131.0 48.3h.01M129.5 46.3h.01M128.7 42.9h.01M129.4 39.8h.01M131.9 36.0h.01M136.7 35.4h.01M139.6 38.1h.01M139.9 40.1h.01" stroke="#222" stroke-width="1.2" stroke-linecap="round" fill="none"/><circle cx="135.80" cy="42.60" r="2.40" fill="#444"/></g><g transform="translate(106.3 331.1) rotate(-11.1)"><line x1="0.30" y1="3.60" x2="0.30" y2="45.20" stroke="#222" stroke-width="0.55" fill="none"/><line x1="53.70" y1="11.00" x2="53.70" y2="35.70" stroke="#222" stroke-width="0.55" fill="none"/><path d="M130.5 16.6V35.8H57.2" stroke="#222" stroke-width="0.55" fill="none"/><rect x="63.6" y="36.3" width="46.4" height="26.2" stroke="#222" stroke-width="0.55" fill="none"/><line x1="63.60" y1="38.00" x2="110.00" y2="38.00" stroke="#222" stroke-width="0.55" fill="none"/><rect x="66.00" y="40.20" width="42.00" height="21.00" rx="10.50" ry="10.50" stroke="#222" stroke-width="0.55" fill="none"/><rect x="67.00" y="41.20" width="40.00" height="19.00" rx="9.50" ry="9.50" stroke="#555" stroke-width="0.4" fill="none"/><rect x="69.00" y="43.45" width="34.00" height="14.50" rx="7.25" ry="7.25" stroke="#222" stroke-width="0.55" fill="none"/><circle cx="83.00" cy="19.10" r="2.90" stroke="#222" stroke-width="0.55" fill="none"/><circle cx="83.00" cy="19.10" r="1.90" stroke="#222" stroke-width="0.55" fill="none"/><line x1="83.00" y1="10.60" x2="83.00" y2="16.20" stroke="#222" stroke-width="0.55" fill="none"/><rect x="106.5" y="34.3" width="8" height="2.6" rx="1.2" stroke="#222" stroke-width="0.6" fill="#bbb"/><rect x="7.40" y="16.45" width="23.00" height="43.50" rx="11.50" ry="11.50" stroke="#222" stroke-width="0.55" fill="none"/><rect x="8.65" y="17.70" width="20.50" height="41.00" rx="10.25" ry="10.25" stroke="#222" stroke-width="0.55" fill="none"/><rect x="10.30" y="19.95" width="17.20" height="36.50" rx="8.60" ry="8.60" stroke="#222" stroke-width="0.55" fill="none"/><rect x="14.9" y="27.5" width="8" height="21.5" fill="#777"/><path d="M21.40 27.50L22.90 29.00M19.90 27.50L22.90 30.50M18.40 27.50L22.90 32.00M16.90 27.50L22.90 33.50M15.40 27.50L22.90 35.00M14.90 28.50L22.90 36.50M14.90 30.00L22.90 38.00M14.90 31.50L22.90 39.50M14.90 33.00L22.90 41.00M14.90 34.50L22.90 42.50M14.90 36.00L22.90 44.00M14.90 37.50L22.90 45.50M14.90 39.00L22.90 47.00M14.90 40.50L22.90 48.50M14.90 42.00L21.90 49.00M14.90 43.50L20.40 49.00M14.90 45.00L18.90 49.00M14.90 46.50L17.40 49.00M14.90 48.00L15.90 49.00" stroke="#222" stroke-width="0.5" fill="none"/><circle cx="21.50" cy="53.00" r="1.30" stroke="#222" stroke-width="0.6" fill="#888"/><circle cx="6.50" cy="60.60" r="1.00" stroke="#222" stroke-width="0.55" fill="none"/><line x1="7.60" y1="30.00" x2="7.60" y2="46.00" stroke="#666" stroke-width="1"/><line x1="30.20" y1="26.00" x2="30.20" y2="40.00" stroke="#666" stroke-width="1"/><path d="M37.2 12.0L42.7 11.8M37.2 12.0L45.7 13.2M37.2 12.0L43.7 16.0M37.2 12.0L41.5 16.5M37.2 12.0L40.2 18.4M37.2 12.0L38.4 19.4M37.2 12.0L36.4 18.4M37.2 12.0L36.5 17.1M37.2 12.0L34.2 16.3M37.2 12.0L31.8 16.9M37.2 12.0L31.0 17.1M37.2 12.0L29.6 15.5M37.2 12.0L31.8 11.3M37.2 12.0L29.9 9.4M37.2 12.0L30.2 9.2M37.2 12.0L30.3 6.8M37.2 12.0L33.3 4.0M37.2 12.0L34.8 6.6M37.2 12.0L37.5 4.8M37.2 12.0L38.4 3.6M37.2 12.0L40.7 7.3M37.2 12.0L41.8 6.1M37.2 12.0L43.6 8.0M37.2 12.0L43.3 10.4" stroke="#4a4a4a" stroke-width="0.75" fill="none"/><path d="M42.7 11.8h.01M43.7 16.0h.01M40.2 18.4h.01M36.4 18.4h.01M34.2 16.3h.01M31.0 17.1h.01M31.8 11.3h.01M30.2 9.2h.01M33.3 4.0h.01M37.5 4.8h.01M40.7 7.3h.01M43.6 8.0h.01" stroke="#4a4a4a" stroke-width="1.2" stroke-linecap="round" fill="none"/><circle cx="37.20" cy="12.00" r="2.70" fill="#777"/><rect x="144.6" y="22.6" width="9" height="16" stroke="#222" stroke-width="0.55" fill="none"/><rect x="131.3" y="41" width="4.3" height="4.3" stroke="#222" stroke-width="0.55" fill="none"/><circle cx="126.50" cy="59.50" r="1.00" stroke="#222" stroke-width="0.55" fill="none"/></g><g transform="translate(236.6 398.4) rotate(-19.5)"><line x1="0.30" y1="0.00" x2="0.30" y2="34.00" stroke="#222" stroke-width="0.55" fill="none"/><path d="M0.5 12.3A27 27 0 0 0 24.5 30.9" stroke="#222" stroke-width="0.55" fill="none"/><g transform="translate(25 3.7) rotate(160.5)"><rect x="0" y="-0.8" width="26.5" height="1.6" stroke="#444" stroke-width="0.35" fill="#ddd"/></g><line x1="24.00" y1="17.60" x2="30.00" y2="16.40" stroke="#222" stroke-width="0.55" fill="none"/></g><g transform="translate(109.8 189.5) rotate(-35)"><rect x="-5.25" y="-4.75" width="10.5" height="9.5" fill="#fff" stroke="#333" stroke-width="0.4"/><path d="M-5.25 -3.80H5.25M-5.25 -1.90H5.25M-5.25 0.00H5.25M-5.25 1.90H5.25M-5.25 3.80H5.25" stroke="#222" stroke-width="0.85" fill="none"/></g><g transform="translate(121.3 202.7) rotate(-35)"><rect x="-5.8" y="-6.65" width="11.6" height="13.3" fill="#fff" stroke="#333" stroke-width="0.4"/><path d="M-5.80 -5.70H5.80M-5.80 -3.80H5.80M-5.80 -1.90H5.80M-5.80 0.00H5.80M-5.80 1.90H5.80M-5.80 3.80H5.80M-5.80 5.70H5.80" stroke="#222" stroke-width="0.85" fill="none"/></g><g transform="translate(138.6 190) rotate(-35)"><rect x="-6.0" y="-5.5" width="12" height="11" fill="#fff" stroke="#333" stroke-width="0.4"/><path d="M-5.00 -5.50V5.50M-3.00 -5.50V5.50M-1.00 -5.50V5.50M1.00 -5.50V5.50M3.00 -5.50V5.50M5.00 -5.50V5.50" stroke="#222" stroke-width="0.85" fill="none"/></g><path d="M112.5 172.8L118.3 172.7M112.5 172.8L117.4 175.3M112.5 172.8L117.3 176.3M112.5 172.8L116.3 177.0M112.5 172.8L114.3 179.3M112.5 172.8L113.2 177.6M112.5 172.8L111.4 179.5M112.5 172.8L110.0 175.8M112.5 172.8L105.9 176.0M112.5 172.8L106.6 174.4M112.5 172.8L108.7 173.3M112.5 172.8L108.7 171.5M112.5 172.8L108.5 170.5M112.5 172.8L108.6 169.0M112.5 172.8L110.2 166.3M112.5 172.8L112.5 166.6M112.5 172.8L114.4 166.9M112.5 172.8L115.3 168.9M112.5 172.8L119.2 169.6M112.5 172.8L118.8 171.6" stroke="#222" stroke-width="0.75" fill="none"/><path d="M118.3 172.7h.01M117.3 176.3h.01M114.3 179.3h.01M111.4 179.5h.01M105.9 176.0h.01M108.7 173.3h.01M108.5 170.5h.01M110.2 166.3h.01M114.4 166.9h.01M119.2 169.6h.01" stroke="#222" stroke-width="1.2" stroke-linecap="round" fill="none"/><circle cx="112.50" cy="172.80" r="2.25" fill="#444"/><path d="M140.7 179.2C144 188 147 195 150 199C153 203 156 205 159.1 207.4C166 212.5 173 217 180.3 221.8C187 226 193 230 200 233.9C206 237 212 240 218.2 242.3C225 245 232 247.5 240 250.6C255 256.5 270 263 284 270" stroke="#444" stroke-width="0.45" fill="none"/><circle cx="210.60" cy="230.90" r="5.30" stroke="#222" stroke-width="0.55" fill="none"/><circle cx="210.60" cy="230.90" r="1.00" stroke="#222" stroke-width="0.55" fill="none"/><line x1="212.00" y1="229.50" x2="216.50" y2="227.50" stroke="#222" stroke-width="1"/><ellipse cx="200" cy="220.8" rx="2.8" ry="1.2" transform="rotate(23.6 200 220.8)" stroke="#222" stroke-width="0.55" fill="none"/><g transform="translate(173.5 216.5) rotate(23.6)"><path d="M-5 -6H6L5 4Q0.5 8 -4 4Z" stroke="#222" stroke-width="0.55" fill="none"/><path d="M-4.5 2H5.5" stroke="#222" stroke-width="0.55" fill="none"/><path d="M-3.5 3V6M-2 3V6.6M-0.5 3V7M1 3V7M2.5 3V6.6M4 3V6" stroke="#222" stroke-width="0.5"/></g><circle cx="262.10" cy="277.10" r="6.80" stroke="#222" stroke-width="0.55" fill="none"/><path d="M230.7 249.3L234.9 248.8M230.7 249.3L234.1 250.7M230.7 249.3L234.4 251.8M230.7 249.3L232.2 252.8M230.7 249.3L231.2 252.3M230.7 249.3L230.7 252.7M230.7 249.3L229.3 251.6M230.7 249.3L228.1 251.0M230.7 249.3L228.3 250.4M230.7 249.3L226.4 248.5M230.7 249.3L227.1 247.4M230.7 249.3L227.8 247.6M230.7 249.3L229.3 246.9M230.7 249.3L230.7 245.9M230.7 249.3L230.9 244.8M230.7 249.3L232.5 244.8M230.7 249.3L233.6 246.8M230.7 249.3L234.1 247.8" stroke="#1a1a1a" stroke-width="0.75" fill="none"/><path d="M234.9 248.8h.01M234.4 251.8h.01M231.2 252.3h.01M229.3 251.6h.01M228.3 250.4h.01M227.1 247.4h.01M229.3 246.9h.01M230.9 244.8h.01M233.6 246.8h.01" stroke="#1a1a1a" stroke-width="1.2" stroke-linecap="round" fill="none"/><circle cx="230.70" cy="249.30" r="1.50" fill="#333"/><path d="M237.1 252.1L239.9 252.6M237.1 252.1L242.0 253.0M237.1 252.1L239.4 253.6M237.1 252.1L238.6 255.1M237.1 252.1L237.2 255.2M237.1 252.1L236.0 255.2M237.1 252.1L234.5 256.2M237.1 252.1L233.2 254.9M237.1 252.1L234.6 252.8M237.1 252.1L233.2 251.6M237.1 252.1L234.2 251.3M237.1 252.1L234.4 249.2M237.1 252.1L235.5 248.0M237.1 252.1L237.1 248.2M237.1 252.1L238.1 248.2M237.1 252.1L239.2 247.7M237.1 252.1L240.3 249.0M237.1 252.1L241.2 251.3" stroke="#1a1a1a" stroke-width="0.75" fill="none"/><path d="M239.9 252.6h.01M239.4 253.6h.01M237.2 255.2h.01M234.5 256.2h.01M234.6 252.8h.01M234.2 251.3h.01M235.5 248.0h.01M238.1 248.2h.01M240.3 249.0h.01" stroke="#1a1a1a" stroke-width="1.2" stroke-linecap="round" fill="none"/><circle cx="237.10" cy="252.10" r="1.50" fill="#333"/><path d="M255.7 260.0L260.5 260.7M255.7 260.0L258.1 261.3M255.7 260.0L258.3 262.4M255.7 260.0L257.1 262.5M255.7 260.0L256.7 263.5M255.7 260.0L255.4 263.6M255.7 260.0L254.8 262.5M255.7 260.0L252.8 262.1M255.7 260.0L251.6 261.5M255.7 260.0L253.1 260.1M255.7 260.0L252.1 258.3M255.7 260.0L252.7 257.2M255.7 260.0L254.5 256.8M255.7 260.0L255.4 256.6M255.7 260.0L256.5 255.9M255.7 260.0L256.9 257.6M255.7 260.0L259.0 257.2M255.7 260.0L259.1 258.9" stroke="#1a1a1a" stroke-width="0.75" fill="none"/><path d="M260.5 260.7h.01M258.3 262.4h.01M256.7 263.5h.01M254.8 262.5h.01M251.6 261.5h.01M252.1 258.3h.01M254.5 256.8h.01M256.5 255.9h.01M259.0 257.2h.01" stroke="#1a1a1a" stroke-width="1.2" stroke-linecap="round" fill="none"/><circle cx="255.70" cy="260.00" r="1.50" fill="#333"/><clipPath id="cb"><rect transform="translate(215.3 79.3) rotate(-15.8)" x="18" y="41" width="68.5" height="113"/></clipPath><g clip-path="url(#cb)"><circle cx="307.30" cy="135.90" r="17.50" stroke="#222" stroke-width="0.55" fill="none"/><path d="M313.0 103.8A32.6 32.6 0 0 0 279.1 152.2C281 157 283 161 283.5 166C284 170 283.8 173 283.5 176" stroke="#222" stroke-width="0.55" fill="none"/><circle cx="293.60" cy="186.40" r="13.20" stroke="#222" stroke-width="0.55" fill="none"/><circle cx="293.60" cy="186.40" r="12.20" stroke="#222" stroke-width="0.55" fill="none"/><circle cx="292.10" cy="183.00" r="3.80" stroke="#222" stroke-width="0.55" fill="none"/><ellipse cx="285.3" cy="190.9" rx="3" ry="2.2" transform="rotate(30 285.3 190.9)" stroke="#222" stroke-width="0.55" fill="none"/><ellipse cx="299" cy="190.6" rx="2.6" ry="1.8" transform="rotate(-20 299 190.6)" stroke="#222" stroke-width="0.55" fill="none"/><path d="M307 188C307.5 183 310.5 178.5 317 175L331 168.9M313.6 176.8A7.5 7.5 0 0 1 327.6 170.4" stroke="#222" stroke-width="0.55" fill="none"/><g transform="translate(306 126) rotate(-14)"><rect x="-8.5" y="-4.5" width="17" height="9" stroke="#222" stroke-width="0.55" fill="none"/><circle cx="-4.30" cy="0.80" r="2.60" stroke="#222" stroke-width="0.55" fill="none"/><circle cx="3.60" cy="-0.30" r="3.80" stroke="#222" stroke-width="0.55" fill="none"/><line x1="-8.50" y1="-3.20" x2="8.50" y2="-3.20" stroke="#222" stroke-width="0.55" fill="none"/></g><path d="M293 139.5L306.8 135.9L313.5 151" stroke="#222" stroke-width="0.55" fill="none"/><path d="M282.3 109.4A8 8 0 0 1 280 123.5" stroke="#555" stroke-width="0.45" fill="none" stroke-dasharray="1 1"/><circle cx="274.70" cy="179.50" r="4.50" stroke="#111" stroke-width="0.9" fill="none"/><circle cx="287.30" cy="205.30" r="4.50" stroke="#111" stroke-width="0.9" fill="none"/><circle cx="313.00" cy="192.40" r="4.50" stroke="#111" stroke-width="0.9" fill="none"/><path d="M260.3 159.1L264.7 158.3M260.3 159.1L266.8 161.0M260.3 159.1L264.1 161.4M260.3 159.1L264.7 164.6M260.3 159.1L262.8 165.6M260.3 159.1L259.7 163.6M260.3 159.1L257.9 164.4M260.3 159.1L255.1 165.1M260.3 159.1L257.0 161.5M260.3 159.1L254.7 159.1M260.3 159.1L255.0 158.8M260.3 159.1L253.2 155.7M260.3 159.1L256.6 155.9M260.3 159.1L258.0 153.4M260.3 159.1L260.9 151.8M260.3 159.1L261.2 154.4M260.3 159.1L265.4 153.0M260.3 159.1L265.0 154.0M260.3 159.1L266.8 157.8" stroke="#222" stroke-width="0.75" fill="none"/><path d="M264.7 158.3h.01M264.1 161.4h.01M262.8 165.6h.01M257.9 164.4h.01M257.0 161.5h.01M255.0 158.8h.01M256.6 155.9h.01M260.9 151.8h.01M265.4 153.0h.01M266.8 157.8h.01" stroke="#222" stroke-width="1.2" stroke-linecap="round" fill="none"/><circle cx="260.30" cy="159.10" r="2.40" fill="#444"/><path d="M269.4 163.6L273.3 163.0M269.4 163.6L275.3 165.3M269.4 163.6L273.7 167.2M269.4 163.6L272.4 167.5M269.4 163.6L269.7 168.5M269.4 163.6L267.4 169.4M269.4 163.6L267.9 166.5M269.4 163.6L266.4 165.7M269.4 163.6L264.5 166.4M269.4 163.6L263.5 162.9M269.4 163.6L266.0 161.7M269.4 163.6L266.3 161.7M269.4 163.6L268.2 160.2M269.4 163.6L268.4 160.4M269.4 163.6L269.4 160.2M269.4 163.6L271.1 160.2M269.4 163.6L273.9 159.3M269.4 163.6L274.7 160.9" stroke="#222" stroke-width="0.75" fill="none"/><path d="M273.3 163.0h.01M273.7 167.2h.01M269.7 168.5h.01M267.9 166.5h.01M264.5 166.4h.01M266.0 161.7h.01M268.2 160.2h.01M269.4 160.2h.01M273.9 159.3h.01" stroke="#222" stroke-width="1.2" stroke-linecap="round" fill="none"/><circle cx="269.40" cy="163.60" r="1.95" fill="#444"/></g><circle cx="248.40" cy="76.30" r="14.20" stroke="#222" stroke-width="0.55" fill="none"/><circle cx="228.50" cy="83.60" r="4.80" stroke="#222" stroke-width="0.55" fill="none"/><circle cx="269.70" cy="75.60" r="4.80" stroke="#222" stroke-width="0.55" fill="none"/><circle cx="252.20" cy="93.70" r="4.80" stroke="#222" stroke-width="0.55" fill="none"/><path d="M289.8 94.4L296.7 94.6M289.8 94.4L294.8 96.5M289.8 94.4L296.3 99.1M289.8 94.4L292.5 98.7M289.8 94.4L292.3 100.8M289.8 94.4L291.0 102.7M289.8 94.4L288.9 100.5M289.8 94.4L285.9 100.2M289.8 94.4L286.5 98.9M289.8 94.4L286.0 96.8M289.8 94.4L282.6 96.2M289.8 94.4L282.0 94.6M289.8 94.4L283.8 91.6M289.8 94.4L286.0 91.6M289.8 94.4L283.3 89.0M289.8 94.4L287.3 89.9M289.8 94.4L289.8 87.0M289.8 94.4L289.8 88.8M289.8 94.4L291.6 89.3M289.8 94.4L293.1 88.8M289.8 94.4L294.5 90.9M289.8 94.4L294.1 92.6" stroke="#222" stroke-width="0.75" fill="none"/><path d="M296.7 94.6h.01M296.3 99.1h.01M292.3 100.8h.01M288.9 100.5h.01M286.5 98.9h.01M282.6 96.2h.01M283.8 91.6h.01M283.3 89.0h.01M289.8 87.0h.01M291.6 89.3h.01M294.5 90.9h.01" stroke="#222" stroke-width="1.2" stroke-linecap="round" fill="none"/><circle cx="289.80" cy="94.40" r="2.55" fill="#444"/><circle cx="326.80" cy="258.80" r="5.20" stroke="#000" stroke-width="0.9" fill="none"/><path d="M323.1 255.1L330.5 262.5M330.5 255.1L323.1 262.5" stroke="#333" stroke-width="0.5" fill="none"/><path d="M321.0 254.5V253.0H322.5M331.1 253.0H332.6V254.5M332.6 263.1V264.6H331.1M322.5 264.6H321.0V263.1" stroke="#000" stroke-width="0.9" fill="none"/><circle cx="349.10" cy="248.50" r="5.20" stroke="#000" stroke-width="0.9" fill="none"/><path d="M345.4 244.8L352.8 252.2M352.8 244.8L345.4 252.2" stroke="#333" stroke-width="0.5" fill="none"/><path d="M343.3 244.2V242.7H344.8M353.40000000000003 242.7H354.90000000000003V244.2M354.90000000000003 252.8V254.3H353.40000000000003M344.8 254.3H343.3V252.8" stroke="#000" stroke-width="0.9" fill="none"/><path d="M317.4 243.3C319.5 250 326 254.2 333.7 254.5S342.5 252 344 250.2M350 233V244.2" stroke="#222" stroke-width="0.55" fill="none"/><path d="M300.5 270.5L307.5 270.5M300.5 270.5L306.0 272.7M300.5 270.5L307.3 273.9M300.5 270.5L304.8 274.8M300.5 270.5L303.7 275.6M300.5 270.5L303.2 277.3M300.5 270.5L299.4 278.0M300.5 270.5L298.7 276.2M300.5 270.5L298.0 275.0M300.5 270.5L296.0 274.3M300.5 270.5L293.1 275.5M300.5 270.5L292.0 273.3M300.5 270.5L292.6 270.2M300.5 270.5L295.4 268.9M300.5 270.5L295.8 267.3M300.5 270.5L296.8 267.0M300.5 270.5L296.6 265.7M300.5 270.5L297.9 264.9M300.5 270.5L301.6 261.6M300.5 270.5L301.7 265.7M300.5 270.5L302.7 266.2M300.5 270.5L305.1 264.8M300.5 270.5L304.6 268.4M300.5 270.5L306.7 268.8" stroke="#555" stroke-width="0.75" fill="none"/><path d="M307.5 270.5h.01M307.3 273.9h.01M303.7 275.6h.01M299.4 278.0h.01M298.0 275.0h.01M293.1 275.5h.01M292.6 270.2h.01M295.8 267.3h.01M296.6 265.7h.01M301.6 261.6h.01M302.7 266.2h.01M304.6 268.4h.01" stroke="#555" stroke-width="1.2" stroke-linecap="round" fill="none"/><circle cx="300.50" cy="270.50" r="2.70" fill="#888"/><circle cx="348.60" cy="307.10" r="5.30" stroke="#111" stroke-width="1" fill="none"/><path d="M344.9 303.4L352.3 310.8M352.3 303.4L344.9 310.8" stroke="#333" stroke-width="0.5" fill="none"/><path d="M345 312.2Q348.6 315.5 352.6 312.2L353.3 313.5Q348.6 317 344.3 313.5Z" stroke="#222" stroke-width="0.6" fill="#999"/><g transform="translate(330 320.3) rotate(40)"><rect x="-5.2" y="-5.2" width="10.4" height="10.4" stroke="#222" stroke-width="0.55" fill="none"/><rect x="3.2" y="-5.2" width="2" height="10.4" fill="#666" stroke="#222" stroke-width="0.4"/></g><g transform="translate(373.3 309.7) rotate(25)"><rect x="-7.3" y="-6.3" width="14.6" height="12.6" stroke="#222" stroke-width="0.55" fill="none"/><rect x="-7.3" y="4.6" width="14.6" height="1.8" fill="#555" stroke="#222" stroke-width="0.4"/></g><g transform="translate(390.3 328.9) rotate(-25)"><rect x="-5.8" y="-5" width="11.6" height="10" rx="1" stroke="#111" stroke-width="0.8" fill="none"/><path d="M-5.8 0H5.8M-2 -5V5M2 -5V5" stroke="#222" stroke-width="0.7"/><rect x="-4.8" y="-4" width="9.6" height="8" stroke="#555" stroke-width="0.4" fill="none"/></g><g transform="translate(321.7 339.3) rotate(6)"><rect x="-6.8" y="-6.8" width="13.6" height="13.6" stroke="#111" stroke-width="0.7" fill="none"/><rect x="-2.6" y="-2.6" width="5.2" height="5.2" stroke="#222" stroke-width="0.55" fill="none"/><path d="M-6.8 -6.8L-2.6 -2.6M6.8 -6.8L2.6 -2.6M6.8 6.8L2.6 2.6M-6.8 6.8L-2.6 2.6M-5.5 -6.8Q0 -4 5.5 -6.8M-5.5 6.8Q0 4 5.5 6.8M-6.8 -5.5Q-4 0 -6.8 5.5M6.8 -5.5Q4 0 6.8 5.5" stroke="#222" stroke-width="0.55" fill="none"/></g><path d="M354.7 315.8C354.1 316.3 352.4 317.8 351.0 318.6C349.6 319.4 347.9 320.1 346.2 320.6C344.5 321.1 342.4 321.0 341.0 321.8C339.6 322.6 338.6 323.5 337.7 325.5C336.8 327.5 335.9 330.9 335.3 333.9C334.7 336.9 334.7 340.8 334.1 343.6C333.5 346.4 332.5 348.7 331.7 350.9C330.9 353.1 329.4 354.8 329.2 357.0C329.0 359.2 330.7 361.8 330.5 364.2C330.3 366.6 328.8 368.9 328.0 371.5C327.2 374.1 325.6 377.4 325.6 380.0C325.6 382.6 327.8 384.9 328.0 387.3C328.2 389.7 327.6 391.9 326.8 394.5C326.0 397.1 324.0 400.2 323.2 403.0C322.4 405.8 322.2 410.1 322.0 411.5" stroke="#333" stroke-width="0.45" fill="none"/><path d="M358.5 316.0C359.3 316.2 361.4 316.9 363.2 317.5C364.9 318.1 367.0 319.3 369.0 319.6C371.0 319.9 373.2 318.6 375.3 319.4C377.4 320.2 380.0 322.2 381.4 324.2C382.8 326.2 383.2 328.7 383.8 331.5C384.4 334.3 385.0 338.4 385.0 341.2C385.0 344.0 383.8 346.1 383.8 348.5C383.8 350.9 385.4 353.8 385.0 355.8C384.6 357.8 381.8 358.6 381.4 360.6C381.0 362.6 383.0 365.5 382.6 367.9C382.2 370.3 379.3 372.8 378.9 375.2C378.5 377.6 380.6 379.6 380.2 382.4C379.8 385.2 377.1 390.5 376.5 392.1" stroke="#333" stroke-width="0.45" fill="none"/><circle cx="356.60" cy="316.60" r="2.40" stroke="#222" stroke-width="0.55" fill="none"/><path d="M342.6 385.6A25.05 25.05 0 0 1 361.7 401.1M338.4 410.8L346.2 432.2M361.7 401.6L373 432.2M349 403.2L351.1 408.9" stroke="#444" stroke-width="0.45" fill="none"/><g transform="translate(338.4 410.3) rotate(-80.35)"><rect x="0" y="-0.3" width="25" height="1.6" stroke="#444" stroke-width="0.35" fill="#ddd"/></g><line x1="289.92" y1="383.09" x2="298.64" y2="407.05" stroke="#333" stroke-width="0.45"/><line x1="291.80" y1="382.40" x2="300.52" y2="406.37" stroke="#333" stroke-width="0.45"/><path d="M276.50 345.93A84.6 84.6 0 0 1 271.45 314.05M274.43 346.69A86.8 86.8 0 0 1 269.25 313.97" stroke="#222" stroke-width="0.55" fill="none"/><path d="M274.28 295.10A84.6 84.6 0 0 1 286.70 268.48M272.16 294.53A86.8 86.8 0 0 1 284.90 267.21" stroke="#222" stroke-width="0.55" fill="none"/><g transform="translate(105.9 159.1) rotate(23.6)"><rect x="0.00" y="-0.40" width="66.00" height="3.90" fill="#000"/><rect x="62.20" y="-0.40" width="3.80" height="16.50" fill="#000"/><rect x="0.00" y="28.50" width="4.00" height="24.80" fill="#000"/><rect x="0.00" y="49.30" width="69.00" height="4.00" fill="#000"/><rect x="0.00" y="-0.40" width="4.00" height="6.00" fill="#000"/><rect x="62.20" y="12.30" width="76.60" height="3.80" fill="#000"/><rect x="135.00" y="12.30" width="3.80" height="17.50" fill="#000"/><rect x="135.00" y="26.10" width="75.00" height="3.80" fill="#000"/><rect x="65.20" y="49.30" width="4.00" height="29.50" fill="#000"/><rect x="65.20" y="74.80" width="73.40" height="4.00" fill="#000"/><rect x="134.80" y="57.20" width="3.80" height="21.60" fill="#000"/><rect x="134.80" y="57.20" width="74.60" height="4.00" fill="#000"/></g><g transform="translate(215.3 79.3) rotate(-15.8)"><rect x="0.00" y="0.00" width="4.00" height="40.80" fill="#000"/><rect x="0.00" y="37.00" width="15.80" height="3.80" fill="#000"/><polygon points="11.8,37 15.8,37 18,158.3 14,158.3" fill="#000"/><rect x="14.00" y="154.30" width="40.50" height="4.00" fill="#000"/><rect x="50.50" y="154.30" width="4.00" height="30.20" fill="#000"/><rect x="72.20" y="-0.60" width="4.00" height="45.40" fill="#000"/><rect x="72.20" y="41.00" width="17.70" height="3.80" fill="#000"/><polygon points="85.9,41 89.9,41 91.3,184.5 87.3,184.5" fill="#000"/></g><g transform="translate(429.7 97.3) rotate(22.5)"><rect x="0.00" y="53.00" width="4.00" height="95.00" fill="#000"/><rect x="0.00" y="53.00" width="18.50" height="6.50" fill="#000"/><rect x="49.30" y="1.20" width="4.00" height="121.00" fill="#000"/><rect x="39.40" y="1.20" width="14.00" height="4.00" fill="#000"/><rect x="31.00" y="118.20" width="22.30" height="4.00" fill="#000"/><rect x="31.00" y="118.20" width="4.00" height="29.00" fill="#000"/></g><g transform="translate(437.7 292.1) rotate(-20.5)"><rect x="-2.00" y="-0.40" width="61.50" height="4.00" fill="#000"/><rect x="55.50" y="-24.50" width="4.00" height="28.10" fill="#000"/><rect x="55.50" y="-24.50" width="65.80" height="4.00" fill="#000"/><rect x="117.30" y="-24.50" width="4.00" height="18.00" fill="#000"/><rect x="117.30" y="-10.70" width="33.30" height="4.00" fill="#000"/><rect x="123.40" y="50.30" width="26.80" height="4.00" fill="#000"/><rect x="123.40" y="37.00" width="4.00" height="17.30" fill="#000"/><rect x="55.50" y="37.00" width="72.00" height="4.00" fill="#000"/><rect x="55.50" y="24.30" width="4.00" height="16.70" fill="#000"/><rect x="-2.00" y="24.30" width="61.50" height="4.00" fill="#000"/></g><g transform="translate(106.3 331.1) rotate(-11.1)"><rect x="0.00" y="0.00" width="53.50" height="3.80" fill="#000"/><rect x="49.70" y="0.00" width="3.80" height="10.40" fill="#000"/><rect x="49.70" y="6.70" width="83.10" height="3.70" fill="#000"/><rect x="129.00" y="6.70" width="3.80" height="9.90" fill="#000"/><rect x="129.00" y="12.90" width="36.50" height="3.70" fill="#000"/><rect x="-0.20" y="44.50" width="3.50" height="21.80" fill="#000"/><rect x="-0.20" y="62.50" width="132.90" height="3.80" fill="#000"/><rect x="129.00" y="50.70" width="3.70" height="15.60" fill="#000"/><rect x="129.00" y="50.70" width="38.00" height="3.70" fill="#000"/><rect x="50.90" y="35.60" width="6.30" height="27.50" fill="#000"/></g><g transform="translate(236.6 398.4) rotate(-19.5)"><rect x="0.00" y="0.00" width="56.00" height="3.70" fill="#000"/><rect x="0.00" y="31.00" width="59.00" height="3.70" fill="#000"/></g><path d="M270.27 313.47A85.80 85.80 0 0 1 273.06 295.04M286.05 267.32A85.80 85.80 0 0 1 314.63 241.83M351.52 231.32A85.80 85.80 0 0 1 375.19 233.37M404.16 245.99A85.80 85.80 0 0 1 438.31 292.78" stroke="#000" stroke-width="3.8" fill="none"/><line x1="278.05" y1="346.97" x2="291.05" y2="382.68" stroke="#000" stroke-width="4.0"/><line x1="299.77" y1="406.64" x2="305.51" y2="422.43" stroke="#000" stroke-width="4.0"/><line x1="437.46" y1="290.54" x2="438.32" y2="292.89" stroke="#000" stroke-width="4.0"/><line x1="446.12" y1="314.32" x2="464.41" y2="364.59" stroke="#000" stroke-width="4.0"/><line x1="302.95" y1="421.23" x2="337.72" y2="408.58" stroke="#000" stroke-width="4.0"/><line x1="360.93" y1="400.13" x2="465.61" y2="362.03" stroke="#000" stroke-width="4.0"/></svg><div id="bd"></div></body></html>
